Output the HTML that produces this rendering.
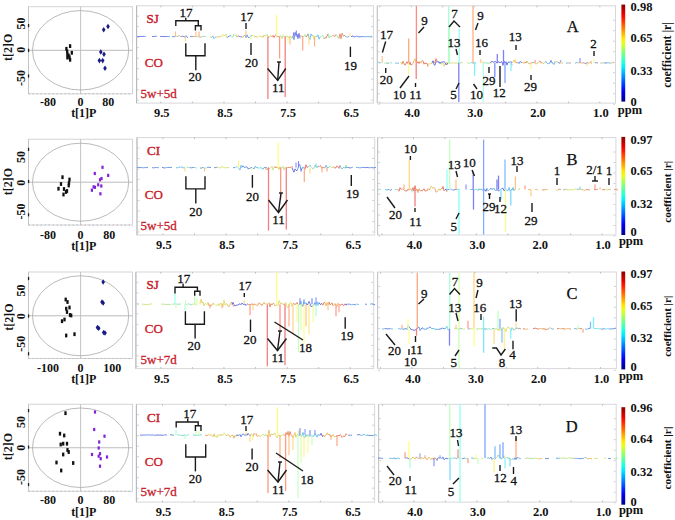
<!DOCTYPE html>
<html><head><meta charset="utf-8"><style>
html,body{margin:0;padding:0;background:#fff;}
svg{display:block;font-family:"Liberation Serif", serif;}
</style></head><body>
<svg width="675" height="520" viewBox="0 0 675 520">
<defs><linearGradient id="jet" x1="0" y1="0" x2="0" y2="1"><stop offset="0.00" stop-color="#890000"/><stop offset="0.05" stop-color="#bb0000"/><stop offset="0.10" stop-color="#ed0000"/><stop offset="0.15" stop-color="#ff2000"/><stop offset="0.20" stop-color="#ff5200"/><stop offset="0.25" stop-color="#ff8400"/><stop offset="0.30" stop-color="#ffb600"/><stop offset="0.35" stop-color="#ffe800"/><stop offset="0.40" stop-color="#e3ff1b"/><stop offset="0.45" stop-color="#b1ff4d"/><stop offset="0.50" stop-color="#7fff7f"/><stop offset="0.55" stop-color="#4dffb1"/><stop offset="0.60" stop-color="#1bffe3"/><stop offset="0.65" stop-color="#00e8ff"/><stop offset="0.70" stop-color="#00b6ff"/><stop offset="0.75" stop-color="#0084ff"/><stop offset="0.80" stop-color="#0052ff"/><stop offset="0.85" stop-color="#0020ff"/><stop offset="0.90" stop-color="#0000ed"/><stop offset="0.95" stop-color="#0000bb"/><stop offset="1.00" stop-color="#000089"/></linearGradient></defs>
<rect width="675" height="520" fill="#fff"/>
<rect x="28.5" y="6.7" width="104" height="87.1" fill="none" stroke="#d4d4d8" stroke-width="1"/>
<line x1="28.5" y1="93.8" x2="132.5" y2="93.8" stroke="#bbb" stroke-width="1" stroke-dasharray="1.5,2.5"/>
<line x1="28.5" y1="6.7" x2="28.5" y2="93.8" stroke="#c4c4c4" stroke-width="1"/>
<line x1="28.5" y1="50.3" x2="132.5" y2="50.3" stroke="#b4b4b4" stroke-width="0.9"/>
<line x1="80.6" y1="6.7" x2="80.6" y2="93.8" stroke="#bcbcbc" stroke-width="0.9"/>
<ellipse cx="80.6" cy="50.3" rx="48.1" ry="39.7" fill="none" stroke="#a8a8a8" stroke-width="0.8"/>
<rect x="27.9" y="24.0" width="1.3" height="3.2" fill="#222"/>
<rect x="27.9" y="48.8" width="1.3" height="3.2" fill="#222"/>
<rect x="27.9" y="74.4" width="1.3" height="3.2" fill="#222"/>
<text x="24.9" y="23.5" font-size="12" font-weight="bold" fill="#111" text-anchor="middle" transform="rotate(-90 24.9 23.5)">50</text>
<text x="24.9" y="49.8" font-size="12" font-weight="bold" fill="#111" text-anchor="middle" transform="rotate(-90 24.9 49.8)">0</text>
<text x="24.9" y="77.9" font-size="12" font-weight="bold" fill="#111" text-anchor="middle" transform="rotate(-90 24.9 77.9)">-50</text>
<text x="12.5" y="47.3" font-size="12" font-weight="bold" fill="#111" text-anchor="middle" transform="rotate(-90 12.5 47.3)">t[2]O</text>
<text x="48" y="105.8" font-size="12" font-weight="bold" fill="#111" text-anchor="middle">-80</text>
<text x="80.6" y="105.8" font-size="12" font-weight="bold" fill="#111" text-anchor="middle">0</text>
<text x="108.3" y="105.8" font-size="12" font-weight="bold" fill="#111" text-anchor="middle">80</text>
<text x="83.8" y="116.8" font-size="12" font-weight="bold" fill="#111" text-anchor="middle">t[1]P</text>
<rect x="68.94999999999999" y="44.2" width="2.3" height="3.8" fill="#111"/>
<rect x="65.25" y="46.9" width="2.3" height="3.8" fill="#111"/>
<rect x="66.05" y="49.6" width="2.3" height="3.8" fill="#111"/>
<rect x="70.64999999999999" y="50.9" width="2.3" height="3.8" fill="#111"/>
<rect x="66.25" y="52.6" width="2.3" height="3.8" fill="#111"/>
<rect x="67.44999999999999" y="53.6" width="2.3" height="3.8" fill="#111"/>
<rect x="66.25" y="55.7" width="2.3" height="3.8" fill="#111"/>
<rect x="68.35" y="55.300000000000004" width="2.3" height="3.8" fill="#111"/>
<rect x="68.94999999999999" y="57.9" width="2.3" height="3.8" fill="#111"/>
<path d="M108 23.7L109.8 26.5L108 29.3L106.2 26.5Z" fill="#1a1a80"/>
<path d="M103.7 27.0L105.5 29.8L103.7 32.6L101.9 29.8Z" fill="#1a1a80"/>
<path d="M100.8 49.2L102.6 52L100.8 54.8L99.0 52Z" fill="#1a1a80"/>
<path d="M104 51.400000000000006L105.8 54.2L104 57.0L102.2 54.2Z" fill="#1a1a80"/>
<path d="M99.4 57.800000000000004L101.2 60.6L99.4 63.4L97.60000000000001 60.6Z" fill="#1a1a80"/>
<path d="M102.7 57.800000000000004L104.5 60.6L102.7 63.4L100.9 60.6Z" fill="#1a1a80"/>
<path d="M105 65.5L106.8 68.3L105 71.1L103.2 68.3Z" fill="#1a1a80"/>
<rect x="136.6" y="5.8" width="236.79999999999998" height="97.3" fill="none" stroke="#d8d8dc" stroke-width="1"/>
<line x1="136.6" y1="5.8" x2="136.6" y2="103.1" stroke="#b4b4bc" stroke-width="1"/>
<rect x="377.3" y="5.8" width="238.2" height="97.3" fill="none" stroke="#d8d8dc" stroke-width="1"/>
<line x1="377.3" y1="5.8" x2="377.3" y2="103.1" stroke="#c4c4c8" stroke-width="1"/>
<line x1="372.9" y1="16.2" x2="370.9" y2="16.2" stroke="#c4c4c4" stroke-width="0.8"/>
<line x1="137.1" y1="16.2" x2="139.1" y2="16.2" stroke="#c4c4c4" stroke-width="0.8"/>
<line x1="377.8" y1="20.2" x2="379.8" y2="20.2" stroke="#c4c4c4" stroke-width="0.8"/>
<line x1="615.0" y1="20.2" x2="613.0" y2="20.2" stroke="#c4c4c4" stroke-width="0.8"/>
<line x1="372.9" y1="26.7" x2="370.9" y2="26.7" stroke="#c4c4c4" stroke-width="0.8"/>
<line x1="137.1" y1="26.7" x2="139.1" y2="26.7" stroke="#c4c4c4" stroke-width="0.8"/>
<line x1="377.8" y1="30.7" x2="379.8" y2="30.7" stroke="#c4c4c4" stroke-width="0.8"/>
<line x1="615.0" y1="30.7" x2="613.0" y2="30.7" stroke="#c4c4c4" stroke-width="0.8"/>
<line x1="372.9" y1="37.2" x2="370.9" y2="37.2" stroke="#c4c4c4" stroke-width="0.8"/>
<line x1="137.1" y1="37.2" x2="139.1" y2="37.2" stroke="#c4c4c4" stroke-width="0.8"/>
<line x1="377.8" y1="41.2" x2="379.8" y2="41.2" stroke="#c4c4c4" stroke-width="0.8"/>
<line x1="615.0" y1="41.2" x2="613.0" y2="41.2" stroke="#c4c4c4" stroke-width="0.8"/>
<line x1="372.9" y1="47.7" x2="370.9" y2="47.7" stroke="#c4c4c4" stroke-width="0.8"/>
<line x1="137.1" y1="47.7" x2="139.1" y2="47.7" stroke="#c4c4c4" stroke-width="0.8"/>
<line x1="377.8" y1="51.7" x2="379.8" y2="51.7" stroke="#c4c4c4" stroke-width="0.8"/>
<line x1="615.0" y1="51.7" x2="613.0" y2="51.7" stroke="#c4c4c4" stroke-width="0.8"/>
<line x1="372.9" y1="58.2" x2="370.9" y2="58.2" stroke="#c4c4c4" stroke-width="0.8"/>
<line x1="137.1" y1="58.2" x2="139.1" y2="58.2" stroke="#c4c4c4" stroke-width="0.8"/>
<line x1="377.8" y1="62.2" x2="379.8" y2="62.2" stroke="#c4c4c4" stroke-width="0.8"/>
<line x1="615.0" y1="62.2" x2="613.0" y2="62.2" stroke="#c4c4c4" stroke-width="0.8"/>
<line x1="372.9" y1="68.7" x2="370.9" y2="68.7" stroke="#c4c4c4" stroke-width="0.8"/>
<line x1="137.1" y1="68.7" x2="139.1" y2="68.7" stroke="#c4c4c4" stroke-width="0.8"/>
<line x1="377.8" y1="72.7" x2="379.8" y2="72.7" stroke="#c4c4c4" stroke-width="0.8"/>
<line x1="615.0" y1="72.7" x2="613.0" y2="72.7" stroke="#c4c4c4" stroke-width="0.8"/>
<line x1="372.9" y1="79.2" x2="370.9" y2="79.2" stroke="#c4c4c4" stroke-width="0.8"/>
<line x1="137.1" y1="79.2" x2="139.1" y2="79.2" stroke="#c4c4c4" stroke-width="0.8"/>
<line x1="377.8" y1="83.2" x2="379.8" y2="83.2" stroke="#c4c4c4" stroke-width="0.8"/>
<line x1="615.0" y1="83.2" x2="613.0" y2="83.2" stroke="#c4c4c4" stroke-width="0.8"/>
<line x1="372.9" y1="89.7" x2="370.9" y2="89.7" stroke="#c4c4c4" stroke-width="0.8"/>
<line x1="137.1" y1="89.7" x2="139.1" y2="89.7" stroke="#c4c4c4" stroke-width="0.8"/>
<line x1="377.8" y1="93.7" x2="379.8" y2="93.7" stroke="#c4c4c4" stroke-width="0.8"/>
<line x1="615.0" y1="93.7" x2="613.0" y2="93.7" stroke="#c4c4c4" stroke-width="0.8"/>
<line x1="372.9" y1="100.2" x2="370.9" y2="100.2" stroke="#c4c4c4" stroke-width="0.8"/>
<line x1="137.1" y1="100.2" x2="139.1" y2="100.2" stroke="#c4c4c4" stroke-width="0.8"/>
<line x1="377.8" y1="104.2" x2="379.8" y2="104.2" stroke="#c4c4c4" stroke-width="0.8"/>
<line x1="615.0" y1="104.2" x2="613.0" y2="104.2" stroke="#c4c4c4" stroke-width="0.8"/>
<text x="161.8" y="116.5" font-size="12.5" font-weight="bold" fill="#111" text-anchor="middle">9.5</text>
<text x="224.95000000000002" y="116.5" font-size="12.5" font-weight="bold" fill="#111" text-anchor="middle">8.5</text>
<text x="288.1" y="116.5" font-size="12.5" font-weight="bold" fill="#111" text-anchor="middle">7.5</text>
<text x="351.25" y="116.5" font-size="12.5" font-weight="bold" fill="#111" text-anchor="middle">6.5</text>
<line x1="160.8" y1="101.6" x2="160.8" y2="103.1" stroke="#aaa" stroke-width="0.8"/>
<line x1="160.8" y1="5.8" x2="160.8" y2="7.3" stroke="#aaa" stroke-width="0.8"/>
<line x1="192.375" y1="101.6" x2="192.375" y2="103.1" stroke="#aaa" stroke-width="0.8"/>
<line x1="192.375" y1="5.8" x2="192.375" y2="7.3" stroke="#aaa" stroke-width="0.8"/>
<line x1="223.95000000000002" y1="101.6" x2="223.95000000000002" y2="103.1" stroke="#aaa" stroke-width="0.8"/>
<line x1="223.95000000000002" y1="5.8" x2="223.95000000000002" y2="7.3" stroke="#aaa" stroke-width="0.8"/>
<line x1="255.525" y1="101.6" x2="255.525" y2="103.1" stroke="#aaa" stroke-width="0.8"/>
<line x1="255.525" y1="5.8" x2="255.525" y2="7.3" stroke="#aaa" stroke-width="0.8"/>
<line x1="287.1" y1="101.6" x2="287.1" y2="103.1" stroke="#aaa" stroke-width="0.8"/>
<line x1="287.1" y1="5.8" x2="287.1" y2="7.3" stroke="#aaa" stroke-width="0.8"/>
<line x1="318.675" y1="101.6" x2="318.675" y2="103.1" stroke="#aaa" stroke-width="0.8"/>
<line x1="318.675" y1="5.8" x2="318.675" y2="7.3" stroke="#aaa" stroke-width="0.8"/>
<line x1="350.25" y1="101.6" x2="350.25" y2="103.1" stroke="#aaa" stroke-width="0.8"/>
<line x1="350.25" y1="5.8" x2="350.25" y2="7.3" stroke="#aaa" stroke-width="0.8"/>
<text x="412.3" y="116.5" font-size="12.5" font-weight="bold" fill="#111" text-anchor="middle">4.0</text>
<text x="475.15000000000003" y="116.5" font-size="12.5" font-weight="bold" fill="#111" text-anchor="middle">3.0</text>
<text x="538.0" y="116.5" font-size="12.5" font-weight="bold" fill="#111" text-anchor="middle">2.0</text>
<text x="600.85" y="116.5" font-size="12.5" font-weight="bold" fill="#111" text-anchor="middle">1.0</text>
<line x1="379.875" y1="101.6" x2="379.875" y2="103.1" stroke="#aaa" stroke-width="0.8"/>
<line x1="379.875" y1="5.8" x2="379.875" y2="7.3" stroke="#aaa" stroke-width="0.8"/>
<line x1="411.3" y1="101.6" x2="411.3" y2="103.1" stroke="#aaa" stroke-width="0.8"/>
<line x1="411.3" y1="5.8" x2="411.3" y2="7.3" stroke="#aaa" stroke-width="0.8"/>
<line x1="442.725" y1="101.6" x2="442.725" y2="103.1" stroke="#aaa" stroke-width="0.8"/>
<line x1="442.725" y1="5.8" x2="442.725" y2="7.3" stroke="#aaa" stroke-width="0.8"/>
<line x1="474.15000000000003" y1="101.6" x2="474.15000000000003" y2="103.1" stroke="#aaa" stroke-width="0.8"/>
<line x1="474.15000000000003" y1="5.8" x2="474.15000000000003" y2="7.3" stroke="#aaa" stroke-width="0.8"/>
<line x1="505.57500000000005" y1="101.6" x2="505.57500000000005" y2="103.1" stroke="#aaa" stroke-width="0.8"/>
<line x1="505.57500000000005" y1="5.8" x2="505.57500000000005" y2="7.3" stroke="#aaa" stroke-width="0.8"/>
<line x1="537.0" y1="101.6" x2="537.0" y2="103.1" stroke="#aaa" stroke-width="0.8"/>
<line x1="537.0" y1="5.8" x2="537.0" y2="7.3" stroke="#aaa" stroke-width="0.8"/>
<line x1="568.425" y1="101.6" x2="568.425" y2="103.1" stroke="#aaa" stroke-width="0.8"/>
<line x1="568.425" y1="5.8" x2="568.425" y2="7.3" stroke="#aaa" stroke-width="0.8"/>
<line x1="599.85" y1="101.6" x2="599.85" y2="103.1" stroke="#aaa" stroke-width="0.8"/>
<line x1="599.85" y1="5.8" x2="599.85" y2="7.3" stroke="#aaa" stroke-width="0.8"/>
<text x="630.0" y="114.2" font-size="12.5" font-weight="bold" fill="#111" text-anchor="middle">ppm</text>
<rect x="621.4" y="4.6" width="3.8" height="97.0" fill="url(#jet)"/>
<text x="630.5" y="10.6" font-size="12.5" font-weight="bold" fill="#111" text-anchor="start">0.98</text>
<text x="630.5" y="42.3" font-size="12.5" font-weight="bold" fill="#111" text-anchor="start">0.65</text>
<text x="630.5" y="74.6" font-size="12.5" font-weight="bold" fill="#111" text-anchor="start">0.33</text>
<text x="630.5" y="105.8" font-size="12.5" font-weight="bold" fill="#111" text-anchor="start">0</text>
<text x="671" y="54.85" font-size="11.9" font-weight="bold" fill="#111" text-anchor="middle" transform="rotate(-90 671 54.85)">coefficient |r|</text>
<text x="152.6" y="22.6" font-size="13" font-weight="normal" fill="#c8202c" text-anchor="middle" stroke="#c8202c" stroke-width="0.45">SJ</text>
<text x="153.8" y="67.0" font-size="13" font-weight="normal" fill="#c8202c" text-anchor="middle" stroke="#c8202c" stroke-width="0.35">CO</text>
<text x="140.5" y="97.8" font-size="13" font-weight="normal" fill="#c8202c" text-anchor="start" stroke="#c8202c" stroke-width="0.3">5w+5d</text>
<text x="572.8" y="32.3" font-size="16.5" font-weight="normal" fill="#111" text-anchor="middle" stroke="#111" stroke-width="0.25">A</text>
<rect x="28.5" y="139.25" width="104" height="85.75" fill="none" stroke="#d4d4d8" stroke-width="1"/>
<line x1="28.5" y1="225.0" x2="132.5" y2="225.0" stroke="#bbb" stroke-width="1" stroke-dasharray="1.5,2.5"/>
<line x1="28.5" y1="139.25" x2="28.5" y2="225.0" stroke="#c4c4c4" stroke-width="1"/>
<line x1="28.5" y1="182.2" x2="132.5" y2="182.2" stroke="#b4b4b4" stroke-width="0.9"/>
<line x1="80.6" y1="139.25" x2="80.6" y2="225.0" stroke="#bcbcbc" stroke-width="0.9"/>
<ellipse cx="80.6" cy="182.2" rx="48.1" ry="39.0" fill="none" stroke="#a8a8a8" stroke-width="0.8"/>
<rect x="27.9" y="147.8" width="1.3" height="3.2" fill="#222"/>
<rect x="27.9" y="179.9" width="1.3" height="3.2" fill="#222"/>
<rect x="27.9" y="213.20000000000002" width="1.3" height="3.2" fill="#222"/>
<text x="24.9" y="157.1" font-size="12" font-weight="bold" fill="#111" text-anchor="middle" transform="rotate(-90 24.9 157.1)">50</text>
<text x="24.9" y="182.8" font-size="12" font-weight="bold" fill="#111" text-anchor="middle" transform="rotate(-90 24.9 182.8)">0</text>
<text x="24.9" y="211.5" font-size="12" font-weight="bold" fill="#111" text-anchor="middle" transform="rotate(-90 24.9 211.5)">-50</text>
<text x="12.5" y="181.6" font-size="12" font-weight="bold" fill="#111" text-anchor="middle" transform="rotate(-90 12.5 181.6)">t[2]O</text>
<text x="48" y="238.5" font-size="12" font-weight="bold" fill="#111" text-anchor="middle">-80</text>
<text x="80.6" y="238.5" font-size="12" font-weight="bold" fill="#111" text-anchor="middle">0</text>
<text x="109.3" y="238.5" font-size="12" font-weight="bold" fill="#111" text-anchor="middle">80</text>
<text x="83.8" y="250.0" font-size="12" font-weight="bold" fill="#111" text-anchor="middle">t[1]P</text>
<rect x="61.35" y="175.29999999999998" width="2.3" height="3.8" fill="#111"/>
<rect x="68.35" y="177.6" width="2.3" height="3.8" fill="#111"/>
<rect x="59.85" y="182.1" width="2.3" height="3.8" fill="#111"/>
<rect x="67.55" y="183.6" width="2.3" height="3.8" fill="#111"/>
<rect x="57.35" y="186.79999999999998" width="2.3" height="3.8" fill="#111"/>
<rect x="62.85" y="187.1" width="2.3" height="3.8" fill="#111"/>
<rect x="65.85" y="189.1" width="2.3" height="3.8" fill="#111"/>
<rect x="62.35" y="192.6" width="2.3" height="3.8" fill="#111"/>
<rect x="64.85" y="190.1" width="2.3" height="3.8" fill="#111"/>
<rect x="67.85" y="181.1" width="2.3" height="3.8" fill="#111"/>
<rect x="101.4" y="165.70000000000002" width="2.2" height="3.2" fill="#7f22d8"/>
<rect x="93.7" y="171.9" width="2.2" height="3.2" fill="#7f22d8"/>
<rect x="107.10000000000001" y="173.8" width="2.2" height="3.2" fill="#7f22d8"/>
<rect x="100.4" y="176.9" width="2.2" height="3.2" fill="#7f22d8"/>
<rect x="98.9" y="178.20000000000002" width="2.2" height="3.2" fill="#7f22d8"/>
<rect x="97.10000000000001" y="183.20000000000002" width="2.2" height="3.2" fill="#7f22d8"/>
<rect x="100.2" y="184.4" width="2.2" height="3.2" fill="#7f22d8"/>
<rect x="92.5" y="185.3" width="2.2" height="3.2" fill="#7f22d8"/>
<rect x="93.9" y="185.70000000000002" width="2.2" height="3.2" fill="#7f22d8"/>
<rect x="90.80000000000001" y="188.6" width="2.2" height="3.2" fill="#7f22d8"/>
<rect x="99.30000000000001" y="192.20000000000002" width="2.2" height="3.2" fill="#7f22d8"/>
<rect x="137.0" y="137.6" width="237.7" height="97.4" fill="none" stroke="#d8d8dc" stroke-width="1"/>
<line x1="137.0" y1="137.6" x2="137.0" y2="235.0" stroke="#b4b4bc" stroke-width="1"/>
<rect x="377.6" y="137.6" width="238.29999999999995" height="97.4" fill="none" stroke="#d8d8dc" stroke-width="1"/>
<line x1="377.6" y1="137.6" x2="377.6" y2="235.0" stroke="#c4c4c8" stroke-width="1"/>
<line x1="374.2" y1="148.0" x2="372.2" y2="148.0" stroke="#c4c4c4" stroke-width="0.8"/>
<line x1="137.5" y1="148.0" x2="139.5" y2="148.0" stroke="#c4c4c4" stroke-width="0.8"/>
<line x1="378.1" y1="152.0" x2="380.1" y2="152.0" stroke="#c4c4c4" stroke-width="0.8"/>
<line x1="615.4" y1="152.0" x2="613.4" y2="152.0" stroke="#c4c4c4" stroke-width="0.8"/>
<line x1="374.2" y1="158.5" x2="372.2" y2="158.5" stroke="#c4c4c4" stroke-width="0.8"/>
<line x1="137.5" y1="158.5" x2="139.5" y2="158.5" stroke="#c4c4c4" stroke-width="0.8"/>
<line x1="378.1" y1="162.5" x2="380.1" y2="162.5" stroke="#c4c4c4" stroke-width="0.8"/>
<line x1="615.4" y1="162.5" x2="613.4" y2="162.5" stroke="#c4c4c4" stroke-width="0.8"/>
<line x1="374.2" y1="169.0" x2="372.2" y2="169.0" stroke="#c4c4c4" stroke-width="0.8"/>
<line x1="137.5" y1="169.0" x2="139.5" y2="169.0" stroke="#c4c4c4" stroke-width="0.8"/>
<line x1="378.1" y1="173.0" x2="380.1" y2="173.0" stroke="#c4c4c4" stroke-width="0.8"/>
<line x1="615.4" y1="173.0" x2="613.4" y2="173.0" stroke="#c4c4c4" stroke-width="0.8"/>
<line x1="374.2" y1="179.5" x2="372.2" y2="179.5" stroke="#c4c4c4" stroke-width="0.8"/>
<line x1="137.5" y1="179.5" x2="139.5" y2="179.5" stroke="#c4c4c4" stroke-width="0.8"/>
<line x1="378.1" y1="183.5" x2="380.1" y2="183.5" stroke="#c4c4c4" stroke-width="0.8"/>
<line x1="615.4" y1="183.5" x2="613.4" y2="183.5" stroke="#c4c4c4" stroke-width="0.8"/>
<line x1="374.2" y1="190.0" x2="372.2" y2="190.0" stroke="#c4c4c4" stroke-width="0.8"/>
<line x1="137.5" y1="190.0" x2="139.5" y2="190.0" stroke="#c4c4c4" stroke-width="0.8"/>
<line x1="378.1" y1="194.0" x2="380.1" y2="194.0" stroke="#c4c4c4" stroke-width="0.8"/>
<line x1="615.4" y1="194.0" x2="613.4" y2="194.0" stroke="#c4c4c4" stroke-width="0.8"/>
<line x1="374.2" y1="200.5" x2="372.2" y2="200.5" stroke="#c4c4c4" stroke-width="0.8"/>
<line x1="137.5" y1="200.5" x2="139.5" y2="200.5" stroke="#c4c4c4" stroke-width="0.8"/>
<line x1="378.1" y1="204.5" x2="380.1" y2="204.5" stroke="#c4c4c4" stroke-width="0.8"/>
<line x1="615.4" y1="204.5" x2="613.4" y2="204.5" stroke="#c4c4c4" stroke-width="0.8"/>
<line x1="374.2" y1="211.0" x2="372.2" y2="211.0" stroke="#c4c4c4" stroke-width="0.8"/>
<line x1="137.5" y1="211.0" x2="139.5" y2="211.0" stroke="#c4c4c4" stroke-width="0.8"/>
<line x1="378.1" y1="215.0" x2="380.1" y2="215.0" stroke="#c4c4c4" stroke-width="0.8"/>
<line x1="615.4" y1="215.0" x2="613.4" y2="215.0" stroke="#c4c4c4" stroke-width="0.8"/>
<line x1="374.2" y1="221.5" x2="372.2" y2="221.5" stroke="#c4c4c4" stroke-width="0.8"/>
<line x1="137.5" y1="221.5" x2="139.5" y2="221.5" stroke="#c4c4c4" stroke-width="0.8"/>
<line x1="378.1" y1="225.5" x2="380.1" y2="225.5" stroke="#c4c4c4" stroke-width="0.8"/>
<line x1="615.4" y1="225.5" x2="613.4" y2="225.5" stroke="#c4c4c4" stroke-width="0.8"/>
<line x1="374.2" y1="232.0" x2="372.2" y2="232.0" stroke="#c4c4c4" stroke-width="0.8"/>
<line x1="137.5" y1="232.0" x2="139.5" y2="232.0" stroke="#c4c4c4" stroke-width="0.8"/>
<line x1="378.1" y1="236.0" x2="380.1" y2="236.0" stroke="#c4c4c4" stroke-width="0.8"/>
<line x1="615.4" y1="236.0" x2="613.4" y2="236.0" stroke="#c4c4c4" stroke-width="0.8"/>
<text x="163.9" y="248.5" font-size="12.5" font-weight="bold" fill="#111" text-anchor="middle">9.5</text>
<text x="227.05" y="248.5" font-size="12.5" font-weight="bold" fill="#111" text-anchor="middle">8.5</text>
<text x="290.2" y="248.5" font-size="12.5" font-weight="bold" fill="#111" text-anchor="middle">7.5</text>
<text x="353.35" y="248.5" font-size="12.5" font-weight="bold" fill="#111" text-anchor="middle">6.5</text>
<line x1="162.9" y1="233.5" x2="162.9" y2="235.0" stroke="#aaa" stroke-width="0.8"/>
<line x1="162.9" y1="137.6" x2="162.9" y2="139.1" stroke="#aaa" stroke-width="0.8"/>
<line x1="194.475" y1="233.5" x2="194.475" y2="235.0" stroke="#aaa" stroke-width="0.8"/>
<line x1="194.475" y1="137.6" x2="194.475" y2="139.1" stroke="#aaa" stroke-width="0.8"/>
<line x1="226.05" y1="233.5" x2="226.05" y2="235.0" stroke="#aaa" stroke-width="0.8"/>
<line x1="226.05" y1="137.6" x2="226.05" y2="139.1" stroke="#aaa" stroke-width="0.8"/>
<line x1="257.625" y1="233.5" x2="257.625" y2="235.0" stroke="#aaa" stroke-width="0.8"/>
<line x1="257.625" y1="137.6" x2="257.625" y2="139.1" stroke="#aaa" stroke-width="0.8"/>
<line x1="289.2" y1="233.5" x2="289.2" y2="235.0" stroke="#aaa" stroke-width="0.8"/>
<line x1="289.2" y1="137.6" x2="289.2" y2="139.1" stroke="#aaa" stroke-width="0.8"/>
<line x1="320.775" y1="233.5" x2="320.775" y2="235.0" stroke="#aaa" stroke-width="0.8"/>
<line x1="320.775" y1="137.6" x2="320.775" y2="139.1" stroke="#aaa" stroke-width="0.8"/>
<line x1="352.35" y1="233.5" x2="352.35" y2="235.0" stroke="#aaa" stroke-width="0.8"/>
<line x1="352.35" y1="137.6" x2="352.35" y2="139.1" stroke="#aaa" stroke-width="0.8"/>
<text x="414.5" y="248.5" font-size="12.5" font-weight="bold" fill="#111" text-anchor="middle">4.0</text>
<text x="477.35" y="248.5" font-size="12.5" font-weight="bold" fill="#111" text-anchor="middle">3.0</text>
<text x="540.2" y="248.5" font-size="12.5" font-weight="bold" fill="#111" text-anchor="middle">2.0</text>
<text x="603.05" y="248.5" font-size="12.5" font-weight="bold" fill="#111" text-anchor="middle">1.0</text>
<line x1="382.075" y1="233.5" x2="382.075" y2="235.0" stroke="#aaa" stroke-width="0.8"/>
<line x1="382.075" y1="137.6" x2="382.075" y2="139.1" stroke="#aaa" stroke-width="0.8"/>
<line x1="413.5" y1="233.5" x2="413.5" y2="235.0" stroke="#aaa" stroke-width="0.8"/>
<line x1="413.5" y1="137.6" x2="413.5" y2="139.1" stroke="#aaa" stroke-width="0.8"/>
<line x1="444.925" y1="233.5" x2="444.925" y2="235.0" stroke="#aaa" stroke-width="0.8"/>
<line x1="444.925" y1="137.6" x2="444.925" y2="139.1" stroke="#aaa" stroke-width="0.8"/>
<line x1="476.35" y1="233.5" x2="476.35" y2="235.0" stroke="#aaa" stroke-width="0.8"/>
<line x1="476.35" y1="137.6" x2="476.35" y2="139.1" stroke="#aaa" stroke-width="0.8"/>
<line x1="507.775" y1="233.5" x2="507.775" y2="235.0" stroke="#aaa" stroke-width="0.8"/>
<line x1="507.775" y1="137.6" x2="507.775" y2="139.1" stroke="#aaa" stroke-width="0.8"/>
<line x1="539.2" y1="233.5" x2="539.2" y2="235.0" stroke="#aaa" stroke-width="0.8"/>
<line x1="539.2" y1="137.6" x2="539.2" y2="139.1" stroke="#aaa" stroke-width="0.8"/>
<line x1="570.625" y1="233.5" x2="570.625" y2="235.0" stroke="#aaa" stroke-width="0.8"/>
<line x1="570.625" y1="137.6" x2="570.625" y2="139.1" stroke="#aaa" stroke-width="0.8"/>
<line x1="602.05" y1="233.5" x2="602.05" y2="235.0" stroke="#aaa" stroke-width="0.8"/>
<line x1="602.05" y1="137.6" x2="602.05" y2="139.1" stroke="#aaa" stroke-width="0.8"/>
<text x="631.1" y="245.1" font-size="12.5" font-weight="bold" fill="#111" text-anchor="middle">ppm</text>
<rect x="621.4" y="136.9" width="3.8" height="98.1" fill="url(#jet)"/>
<text x="630.5" y="143.5" font-size="12.5" font-weight="bold" fill="#111" text-anchor="start">0.97</text>
<text x="630.5" y="174.6" font-size="12.5" font-weight="bold" fill="#111" text-anchor="start">0.65</text>
<text x="630.5" y="208.1" font-size="12.5" font-weight="bold" fill="#111" text-anchor="start">0.32</text>
<text x="630.5" y="236.3" font-size="12.5" font-weight="bold" fill="#111" text-anchor="start">0</text>
<text x="671" y="191.75" font-size="11.2" font-weight="bold" fill="#111" text-anchor="middle" transform="rotate(-90 671 191.75)">coefficient |r|</text>
<text x="153.6" y="154.9" font-size="13" font-weight="normal" fill="#c8202c" text-anchor="middle" stroke="#c8202c" stroke-width="0.45">CI</text>
<text x="153.8" y="198.8" font-size="13" font-weight="normal" fill="#c8202c" text-anchor="middle" stroke="#c8202c" stroke-width="0.35">CO</text>
<text x="140.5" y="229.6" font-size="13" font-weight="normal" fill="#c8202c" text-anchor="start" stroke="#c8202c" stroke-width="0.3">5w+5d</text>
<text x="572.0" y="164.6" font-size="16.5" font-weight="normal" fill="#111" text-anchor="middle" stroke="#111" stroke-width="0.25">B</text>
<rect x="28.5" y="272.0" width="104" height="86.5" fill="none" stroke="#d4d4d8" stroke-width="1"/>
<line x1="28.5" y1="358.5" x2="132.5" y2="358.5" stroke="#bbb" stroke-width="1" stroke-dasharray="1.5,2.5"/>
<line x1="28.5" y1="272.0" x2="28.5" y2="358.5" stroke="#c4c4c4" stroke-width="1"/>
<line x1="28.5" y1="315.8" x2="132.5" y2="315.8" stroke="#b4b4b4" stroke-width="0.9"/>
<line x1="80.6" y1="272.0" x2="80.6" y2="358.5" stroke="#bcbcbc" stroke-width="0.9"/>
<ellipse cx="80.6" cy="315.8" rx="48.1" ry="40.0" fill="none" stroke="#a8a8a8" stroke-width="0.8"/>
<rect x="27.9" y="276.9" width="1.3" height="3.2" fill="#222"/>
<rect x="27.9" y="314.4" width="1.3" height="3.2" fill="#222"/>
<rect x="27.9" y="352.2" width="1.3" height="3.2" fill="#222"/>
<text x="24.9" y="290.5" font-size="12" font-weight="bold" fill="#111" text-anchor="middle" transform="rotate(-90 24.9 290.5)">50</text>
<text x="24.9" y="316.3" font-size="12" font-weight="bold" fill="#111" text-anchor="middle" transform="rotate(-90 24.9 316.3)">0</text>
<text x="24.9" y="343.8" font-size="12" font-weight="bold" fill="#111" text-anchor="middle" transform="rotate(-90 24.9 343.8)">-50</text>
<text x="12.5" y="317" font-size="12" font-weight="bold" fill="#111" text-anchor="middle" transform="rotate(-90 12.5 317)">t[2]O</text>
<text x="48" y="372.0" font-size="12" font-weight="bold" fill="#111" text-anchor="middle">-100</text>
<text x="80.6" y="372.0" font-size="12" font-weight="bold" fill="#111" text-anchor="middle">0</text>
<text x="112.3" y="372.0" font-size="12" font-weight="bold" fill="#111" text-anchor="middle">100</text>
<text x="83.8" y="382.5" font-size="12" font-weight="bold" fill="#111" text-anchor="middle">t[1]P</text>
<rect x="64.55" y="297.6" width="2.3" height="3.8" fill="#111"/>
<rect x="66.35" y="300.1" width="2.3" height="3.8" fill="#111"/>
<rect x="65.05" y="306.8" width="2.3" height="3.8" fill="#111"/>
<rect x="68.35" y="305.6" width="2.3" height="3.8" fill="#111"/>
<rect x="65.85" y="310.1" width="2.3" height="3.8" fill="#111"/>
<rect x="68.85" y="313.1" width="2.3" height="3.8" fill="#111"/>
<rect x="70.05" y="313.6" width="2.3" height="3.8" fill="#111"/>
<rect x="63.35" y="317.6" width="2.3" height="3.8" fill="#111"/>
<rect x="60.85" y="319.3" width="2.3" height="3.8" fill="#111"/>
<rect x="65.05" y="333.6" width="2.3" height="3.8" fill="#111"/>
<rect x="73.35" y="332.3" width="2.3" height="3.8" fill="#111"/>
<path d="M103.2 279.2L105.0 282L103.2 284.8L101.4 282Z" fill="#1a1a80"/>
<path d="M102 299.2L103.8 302L102 304.8L100.2 302Z" fill="#1a1a80"/>
<path d="M103.2 300.2L105.0 303L103.2 305.8L101.4 303Z" fill="#1a1a80"/>
<path d="M97.5 324.7L99.3 327.5L97.5 330.3L95.7 327.5Z" fill="#1a1a80"/>
<path d="M98.7 325.4L100.5 328.2L98.7 331.0L96.9 328.2Z" fill="#1a1a80"/>
<path d="M103.7 329.7L105.5 332.5L103.7 335.3L101.9 332.5Z" fill="#1a1a80"/>
<path d="M105 330.2L106.8 333L105 335.8L103.2 333Z" fill="#1a1a80"/>
<rect x="135.9" y="272.0" width="237.79999999999998" height="96.60000000000002" fill="none" stroke="#d8d8dc" stroke-width="1"/>
<line x1="135.9" y1="272.0" x2="135.9" y2="368.6" stroke="#b4b4bc" stroke-width="1"/>
<rect x="377.6" y="272.0" width="238.79999999999995" height="96.60000000000002" fill="none" stroke="#d8d8dc" stroke-width="1"/>
<line x1="377.6" y1="272.0" x2="377.6" y2="368.6" stroke="#c4c4c8" stroke-width="1"/>
<line x1="373.2" y1="282.4" x2="371.2" y2="282.4" stroke="#c4c4c4" stroke-width="0.8"/>
<line x1="136.4" y1="282.4" x2="138.4" y2="282.4" stroke="#c4c4c4" stroke-width="0.8"/>
<line x1="378.1" y1="286.4" x2="380.1" y2="286.4" stroke="#c4c4c4" stroke-width="0.8"/>
<line x1="615.9" y1="286.4" x2="613.9" y2="286.4" stroke="#c4c4c4" stroke-width="0.8"/>
<line x1="373.2" y1="292.9" x2="371.2" y2="292.9" stroke="#c4c4c4" stroke-width="0.8"/>
<line x1="136.4" y1="292.9" x2="138.4" y2="292.9" stroke="#c4c4c4" stroke-width="0.8"/>
<line x1="378.1" y1="296.9" x2="380.1" y2="296.9" stroke="#c4c4c4" stroke-width="0.8"/>
<line x1="615.9" y1="296.9" x2="613.9" y2="296.9" stroke="#c4c4c4" stroke-width="0.8"/>
<line x1="373.2" y1="303.4" x2="371.2" y2="303.4" stroke="#c4c4c4" stroke-width="0.8"/>
<line x1="136.4" y1="303.4" x2="138.4" y2="303.4" stroke="#c4c4c4" stroke-width="0.8"/>
<line x1="378.1" y1="307.4" x2="380.1" y2="307.4" stroke="#c4c4c4" stroke-width="0.8"/>
<line x1="615.9" y1="307.4" x2="613.9" y2="307.4" stroke="#c4c4c4" stroke-width="0.8"/>
<line x1="373.2" y1="313.9" x2="371.2" y2="313.9" stroke="#c4c4c4" stroke-width="0.8"/>
<line x1="136.4" y1="313.9" x2="138.4" y2="313.9" stroke="#c4c4c4" stroke-width="0.8"/>
<line x1="378.1" y1="317.9" x2="380.1" y2="317.9" stroke="#c4c4c4" stroke-width="0.8"/>
<line x1="615.9" y1="317.9" x2="613.9" y2="317.9" stroke="#c4c4c4" stroke-width="0.8"/>
<line x1="373.2" y1="324.4" x2="371.2" y2="324.4" stroke="#c4c4c4" stroke-width="0.8"/>
<line x1="136.4" y1="324.4" x2="138.4" y2="324.4" stroke="#c4c4c4" stroke-width="0.8"/>
<line x1="378.1" y1="328.4" x2="380.1" y2="328.4" stroke="#c4c4c4" stroke-width="0.8"/>
<line x1="615.9" y1="328.4" x2="613.9" y2="328.4" stroke="#c4c4c4" stroke-width="0.8"/>
<line x1="373.2" y1="334.9" x2="371.2" y2="334.9" stroke="#c4c4c4" stroke-width="0.8"/>
<line x1="136.4" y1="334.9" x2="138.4" y2="334.9" stroke="#c4c4c4" stroke-width="0.8"/>
<line x1="378.1" y1="338.9" x2="380.1" y2="338.9" stroke="#c4c4c4" stroke-width="0.8"/>
<line x1="615.9" y1="338.9" x2="613.9" y2="338.9" stroke="#c4c4c4" stroke-width="0.8"/>
<line x1="373.2" y1="345.4" x2="371.2" y2="345.4" stroke="#c4c4c4" stroke-width="0.8"/>
<line x1="136.4" y1="345.4" x2="138.4" y2="345.4" stroke="#c4c4c4" stroke-width="0.8"/>
<line x1="378.1" y1="349.4" x2="380.1" y2="349.4" stroke="#c4c4c4" stroke-width="0.8"/>
<line x1="615.9" y1="349.4" x2="613.9" y2="349.4" stroke="#c4c4c4" stroke-width="0.8"/>
<line x1="373.2" y1="355.9" x2="371.2" y2="355.9" stroke="#c4c4c4" stroke-width="0.8"/>
<line x1="136.4" y1="355.9" x2="138.4" y2="355.9" stroke="#c4c4c4" stroke-width="0.8"/>
<line x1="378.1" y1="359.9" x2="380.1" y2="359.9" stroke="#c4c4c4" stroke-width="0.8"/>
<line x1="615.9" y1="359.9" x2="613.9" y2="359.9" stroke="#c4c4c4" stroke-width="0.8"/>
<line x1="373.2" y1="366.4" x2="371.2" y2="366.4" stroke="#c4c4c4" stroke-width="0.8"/>
<line x1="136.4" y1="366.4" x2="138.4" y2="366.4" stroke="#c4c4c4" stroke-width="0.8"/>
<line x1="378.1" y1="370.4" x2="380.1" y2="370.4" stroke="#c4c4c4" stroke-width="0.8"/>
<line x1="615.9" y1="370.4" x2="613.9" y2="370.4" stroke="#c4c4c4" stroke-width="0.8"/>
<text x="161.8" y="383.0" font-size="12.5" font-weight="bold" fill="#111" text-anchor="middle">9.5</text>
<text x="224.95000000000002" y="383.0" font-size="12.5" font-weight="bold" fill="#111" text-anchor="middle">8.5</text>
<text x="288.1" y="383.0" font-size="12.5" font-weight="bold" fill="#111" text-anchor="middle">7.5</text>
<text x="351.25" y="383.0" font-size="12.5" font-weight="bold" fill="#111" text-anchor="middle">6.5</text>
<line x1="160.8" y1="367.1" x2="160.8" y2="368.6" stroke="#aaa" stroke-width="0.8"/>
<line x1="160.8" y1="272.0" x2="160.8" y2="273.5" stroke="#aaa" stroke-width="0.8"/>
<line x1="192.375" y1="367.1" x2="192.375" y2="368.6" stroke="#aaa" stroke-width="0.8"/>
<line x1="192.375" y1="272.0" x2="192.375" y2="273.5" stroke="#aaa" stroke-width="0.8"/>
<line x1="223.95000000000002" y1="367.1" x2="223.95000000000002" y2="368.6" stroke="#aaa" stroke-width="0.8"/>
<line x1="223.95000000000002" y1="272.0" x2="223.95000000000002" y2="273.5" stroke="#aaa" stroke-width="0.8"/>
<line x1="255.525" y1="367.1" x2="255.525" y2="368.6" stroke="#aaa" stroke-width="0.8"/>
<line x1="255.525" y1="272.0" x2="255.525" y2="273.5" stroke="#aaa" stroke-width="0.8"/>
<line x1="287.1" y1="367.1" x2="287.1" y2="368.6" stroke="#aaa" stroke-width="0.8"/>
<line x1="287.1" y1="272.0" x2="287.1" y2="273.5" stroke="#aaa" stroke-width="0.8"/>
<line x1="318.675" y1="367.1" x2="318.675" y2="368.6" stroke="#aaa" stroke-width="0.8"/>
<line x1="318.675" y1="272.0" x2="318.675" y2="273.5" stroke="#aaa" stroke-width="0.8"/>
<line x1="350.25" y1="367.1" x2="350.25" y2="368.6" stroke="#aaa" stroke-width="0.8"/>
<line x1="350.25" y1="272.0" x2="350.25" y2="273.5" stroke="#aaa" stroke-width="0.8"/>
<text x="413.0" y="383.0" font-size="12.5" font-weight="bold" fill="#111" text-anchor="middle">4.0</text>
<text x="475.85" y="383.0" font-size="12.5" font-weight="bold" fill="#111" text-anchor="middle">3.0</text>
<text x="538.7" y="383.0" font-size="12.5" font-weight="bold" fill="#111" text-anchor="middle">2.0</text>
<text x="601.55" y="383.0" font-size="12.5" font-weight="bold" fill="#111" text-anchor="middle">1.0</text>
<line x1="380.575" y1="367.1" x2="380.575" y2="368.6" stroke="#aaa" stroke-width="0.8"/>
<line x1="380.575" y1="272.0" x2="380.575" y2="273.5" stroke="#aaa" stroke-width="0.8"/>
<line x1="412.0" y1="367.1" x2="412.0" y2="368.6" stroke="#aaa" stroke-width="0.8"/>
<line x1="412.0" y1="272.0" x2="412.0" y2="273.5" stroke="#aaa" stroke-width="0.8"/>
<line x1="443.425" y1="367.1" x2="443.425" y2="368.6" stroke="#aaa" stroke-width="0.8"/>
<line x1="443.425" y1="272.0" x2="443.425" y2="273.5" stroke="#aaa" stroke-width="0.8"/>
<line x1="474.85" y1="367.1" x2="474.85" y2="368.6" stroke="#aaa" stroke-width="0.8"/>
<line x1="474.85" y1="272.0" x2="474.85" y2="273.5" stroke="#aaa" stroke-width="0.8"/>
<line x1="506.275" y1="367.1" x2="506.275" y2="368.6" stroke="#aaa" stroke-width="0.8"/>
<line x1="506.275" y1="272.0" x2="506.275" y2="273.5" stroke="#aaa" stroke-width="0.8"/>
<line x1="537.7" y1="367.1" x2="537.7" y2="368.6" stroke="#aaa" stroke-width="0.8"/>
<line x1="537.7" y1="272.0" x2="537.7" y2="273.5" stroke="#aaa" stroke-width="0.8"/>
<line x1="569.125" y1="367.1" x2="569.125" y2="368.6" stroke="#aaa" stroke-width="0.8"/>
<line x1="569.125" y1="272.0" x2="569.125" y2="273.5" stroke="#aaa" stroke-width="0.8"/>
<line x1="600.55" y1="367.1" x2="600.55" y2="368.6" stroke="#aaa" stroke-width="0.8"/>
<line x1="600.55" y1="272.0" x2="600.55" y2="273.5" stroke="#aaa" stroke-width="0.8"/>
<text x="631.1" y="380.1" font-size="12.5" font-weight="bold" fill="#111" text-anchor="middle">ppm</text>
<rect x="621.4" y="271.5" width="3.8" height="97.89999999999998" fill="url(#jet)"/>
<text x="630.5" y="278.0" font-size="12.5" font-weight="bold" fill="#111" text-anchor="start">0.97</text>
<text x="630.5" y="309.6" font-size="12.5" font-weight="bold" fill="#111" text-anchor="start">0.65</text>
<text x="630.5" y="342.0" font-size="12.5" font-weight="bold" fill="#111" text-anchor="start">0.32</text>
<text x="630.5" y="371.3" font-size="12.5" font-weight="bold" fill="#111" text-anchor="start">0</text>
<text x="671" y="326.2" font-size="11.1" font-weight="bold" fill="#111" text-anchor="middle" transform="rotate(-90 671 326.2)">coefficient |r|</text>
<text x="152.6" y="288.8" font-size="13" font-weight="normal" fill="#c8202c" text-anchor="middle" stroke="#c8202c" stroke-width="0.45">SJ</text>
<text x="153.8" y="333.2" font-size="13" font-weight="normal" fill="#c8202c" text-anchor="middle" stroke="#c8202c" stroke-width="0.35">CO</text>
<text x="140.5" y="364.0" font-size="13" font-weight="normal" fill="#c8202c" text-anchor="start" stroke="#c8202c" stroke-width="0.3">5w+7d</text>
<text x="572.0" y="298.9" font-size="16.5" font-weight="normal" fill="#111" text-anchor="middle" stroke="#111" stroke-width="0.25">C</text>
<rect x="28.5" y="404.25" width="104" height="87.0" fill="none" stroke="#d4d4d8" stroke-width="1"/>
<line x1="28.5" y1="491.25" x2="132.5" y2="491.25" stroke="#bbb" stroke-width="1" stroke-dasharray="1.5,2.5"/>
<line x1="28.5" y1="404.25" x2="28.5" y2="491.25" stroke="#c4c4c4" stroke-width="1"/>
<line x1="28.5" y1="447.75" x2="132.5" y2="447.75" stroke="#b4b4b4" stroke-width="0.9"/>
<line x1="80.6" y1="404.25" x2="80.6" y2="491.25" stroke="#bcbcbc" stroke-width="0.9"/>
<ellipse cx="80.6" cy="447.75" rx="48.1" ry="39.75" fill="none" stroke="#a8a8a8" stroke-width="0.8"/>
<rect x="27.9" y="409.0" width="1.3" height="3.2" fill="#222"/>
<rect x="27.9" y="445.5" width="1.3" height="3.2" fill="#222"/>
<rect x="27.9" y="483.0" width="1.3" height="3.2" fill="#222"/>
<text x="24.9" y="422.1" font-size="12" font-weight="bold" fill="#111" text-anchor="middle" transform="rotate(-90 24.9 422.1)">50</text>
<text x="24.9" y="447.8" font-size="12" font-weight="bold" fill="#111" text-anchor="middle" transform="rotate(-90 24.9 447.8)">0</text>
<text x="24.9" y="476.9" font-size="12" font-weight="bold" fill="#111" text-anchor="middle" transform="rotate(-90 24.9 476.9)">-50</text>
<text x="12.5" y="446.7" font-size="12" font-weight="bold" fill="#111" text-anchor="middle" transform="rotate(-90 12.5 446.7)">t[2]O</text>
<text x="48" y="504.25" font-size="12" font-weight="bold" fill="#111" text-anchor="middle">-80</text>
<text x="80.6" y="504.25" font-size="12" font-weight="bold" fill="#111" text-anchor="middle">0</text>
<text x="109.3" y="504.25" font-size="12" font-weight="bold" fill="#111" text-anchor="middle">80</text>
<text x="83.8" y="515.55" font-size="12" font-weight="bold" fill="#111" text-anchor="middle">t[1]P</text>
<rect x="64.35" y="411.3" width="2.3" height="3.8" fill="#111"/>
<rect x="58.85" y="431.8" width="2.3" height="3.8" fill="#111"/>
<rect x="63.050000000000004" y="433.6" width="2.3" height="3.8" fill="#111"/>
<rect x="59.550000000000004" y="442.6" width="2.3" height="3.8" fill="#111"/>
<rect x="62.050000000000004" y="441.8" width="2.3" height="3.8" fill="#111"/>
<rect x="65.85" y="441.8" width="2.3" height="3.8" fill="#111"/>
<rect x="66.35" y="448.1" width="2.3" height="3.8" fill="#111"/>
<rect x="67.55" y="450.1" width="2.3" height="3.8" fill="#111"/>
<rect x="62.050000000000004" y="452.6" width="2.3" height="3.8" fill="#111"/>
<rect x="55.35" y="460.6" width="2.3" height="3.8" fill="#111"/>
<rect x="72.05" y="461.1" width="2.3" height="3.8" fill="#111"/>
<rect x="60.050000000000004" y="468.6" width="2.3" height="3.8" fill="#111"/>
<rect x="93.9" y="410.4" width="2.2" height="3.2" fill="#7f22d8"/>
<rect x="93.10000000000001" y="427.9" width="2.2" height="3.2" fill="#7f22d8"/>
<rect x="103.4" y="434.59999999999997" width="2.2" height="3.2" fill="#7f22d8"/>
<rect x="98.10000000000001" y="440.4" width="2.2" height="3.2" fill="#7f22d8"/>
<rect x="97.60000000000001" y="446.4" width="2.2" height="3.2" fill="#7f22d8"/>
<rect x="90.9" y="452.9" width="2.2" height="3.2" fill="#7f22d8"/>
<rect x="98.9" y="452.09999999999997" width="2.2" height="3.2" fill="#7f22d8"/>
<rect x="97.60000000000001" y="454.59999999999997" width="2.2" height="3.2" fill="#7f22d8"/>
<rect x="99.60000000000001" y="457.09999999999997" width="2.2" height="3.2" fill="#7f22d8"/>
<rect x="105.9" y="455.4" width="2.2" height="3.2" fill="#7f22d8"/>
<rect x="98.9" y="464.59999999999997" width="2.2" height="3.2" fill="#7f22d8"/>
<rect x="136.4" y="404.3" width="238.20000000000002" height="97.80000000000001" fill="none" stroke="#d8d8dc" stroke-width="1"/>
<line x1="136.4" y1="404.3" x2="136.4" y2="502.1" stroke="#b4b4bc" stroke-width="1"/>
<rect x="378.6" y="404.3" width="237.60000000000002" height="97.80000000000001" fill="none" stroke="#d8d8dc" stroke-width="1"/>
<line x1="378.6" y1="404.3" x2="378.6" y2="502.1" stroke="#c4c4c8" stroke-width="1"/>
<line x1="374.1" y1="414.7" x2="372.1" y2="414.7" stroke="#c4c4c4" stroke-width="0.8"/>
<line x1="136.9" y1="414.7" x2="138.9" y2="414.7" stroke="#c4c4c4" stroke-width="0.8"/>
<line x1="379.1" y1="418.7" x2="381.1" y2="418.7" stroke="#c4c4c4" stroke-width="0.8"/>
<line x1="615.7" y1="418.7" x2="613.7" y2="418.7" stroke="#c4c4c4" stroke-width="0.8"/>
<line x1="374.1" y1="425.2" x2="372.1" y2="425.2" stroke="#c4c4c4" stroke-width="0.8"/>
<line x1="136.9" y1="425.2" x2="138.9" y2="425.2" stroke="#c4c4c4" stroke-width="0.8"/>
<line x1="379.1" y1="429.2" x2="381.1" y2="429.2" stroke="#c4c4c4" stroke-width="0.8"/>
<line x1="615.7" y1="429.2" x2="613.7" y2="429.2" stroke="#c4c4c4" stroke-width="0.8"/>
<line x1="374.1" y1="435.7" x2="372.1" y2="435.7" stroke="#c4c4c4" stroke-width="0.8"/>
<line x1="136.9" y1="435.7" x2="138.9" y2="435.7" stroke="#c4c4c4" stroke-width="0.8"/>
<line x1="379.1" y1="439.7" x2="381.1" y2="439.7" stroke="#c4c4c4" stroke-width="0.8"/>
<line x1="615.7" y1="439.7" x2="613.7" y2="439.7" stroke="#c4c4c4" stroke-width="0.8"/>
<line x1="374.1" y1="446.2" x2="372.1" y2="446.2" stroke="#c4c4c4" stroke-width="0.8"/>
<line x1="136.9" y1="446.2" x2="138.9" y2="446.2" stroke="#c4c4c4" stroke-width="0.8"/>
<line x1="379.1" y1="450.2" x2="381.1" y2="450.2" stroke="#c4c4c4" stroke-width="0.8"/>
<line x1="615.7" y1="450.2" x2="613.7" y2="450.2" stroke="#c4c4c4" stroke-width="0.8"/>
<line x1="374.1" y1="456.7" x2="372.1" y2="456.7" stroke="#c4c4c4" stroke-width="0.8"/>
<line x1="136.9" y1="456.7" x2="138.9" y2="456.7" stroke="#c4c4c4" stroke-width="0.8"/>
<line x1="379.1" y1="460.7" x2="381.1" y2="460.7" stroke="#c4c4c4" stroke-width="0.8"/>
<line x1="615.7" y1="460.7" x2="613.7" y2="460.7" stroke="#c4c4c4" stroke-width="0.8"/>
<line x1="374.1" y1="467.2" x2="372.1" y2="467.2" stroke="#c4c4c4" stroke-width="0.8"/>
<line x1="136.9" y1="467.2" x2="138.9" y2="467.2" stroke="#c4c4c4" stroke-width="0.8"/>
<line x1="379.1" y1="471.2" x2="381.1" y2="471.2" stroke="#c4c4c4" stroke-width="0.8"/>
<line x1="615.7" y1="471.2" x2="613.7" y2="471.2" stroke="#c4c4c4" stroke-width="0.8"/>
<line x1="374.1" y1="477.7" x2="372.1" y2="477.7" stroke="#c4c4c4" stroke-width="0.8"/>
<line x1="136.9" y1="477.7" x2="138.9" y2="477.7" stroke="#c4c4c4" stroke-width="0.8"/>
<line x1="379.1" y1="481.7" x2="381.1" y2="481.7" stroke="#c4c4c4" stroke-width="0.8"/>
<line x1="615.7" y1="481.7" x2="613.7" y2="481.7" stroke="#c4c4c4" stroke-width="0.8"/>
<line x1="374.1" y1="488.2" x2="372.1" y2="488.2" stroke="#c4c4c4" stroke-width="0.8"/>
<line x1="136.9" y1="488.2" x2="138.9" y2="488.2" stroke="#c4c4c4" stroke-width="0.8"/>
<line x1="379.1" y1="492.2" x2="381.1" y2="492.2" stroke="#c4c4c4" stroke-width="0.8"/>
<line x1="615.7" y1="492.2" x2="613.7" y2="492.2" stroke="#c4c4c4" stroke-width="0.8"/>
<line x1="374.1" y1="498.7" x2="372.1" y2="498.7" stroke="#c4c4c4" stroke-width="0.8"/>
<line x1="136.9" y1="498.7" x2="138.9" y2="498.7" stroke="#c4c4c4" stroke-width="0.8"/>
<line x1="379.1" y1="502.7" x2="381.1" y2="502.7" stroke="#c4c4c4" stroke-width="0.8"/>
<line x1="615.7" y1="502.7" x2="613.7" y2="502.7" stroke="#c4c4c4" stroke-width="0.8"/>
<text x="163.5" y="516.2" font-size="12.5" font-weight="bold" fill="#111" text-anchor="middle">9.5</text>
<text x="226.65" y="516.2" font-size="12.5" font-weight="bold" fill="#111" text-anchor="middle">8.5</text>
<text x="289.8" y="516.2" font-size="12.5" font-weight="bold" fill="#111" text-anchor="middle">7.5</text>
<text x="352.95" y="516.2" font-size="12.5" font-weight="bold" fill="#111" text-anchor="middle">6.5</text>
<line x1="162.5" y1="500.6" x2="162.5" y2="502.1" stroke="#aaa" stroke-width="0.8"/>
<line x1="162.5" y1="404.3" x2="162.5" y2="405.8" stroke="#aaa" stroke-width="0.8"/>
<line x1="194.075" y1="500.6" x2="194.075" y2="502.1" stroke="#aaa" stroke-width="0.8"/>
<line x1="194.075" y1="404.3" x2="194.075" y2="405.8" stroke="#aaa" stroke-width="0.8"/>
<line x1="225.65" y1="500.6" x2="225.65" y2="502.1" stroke="#aaa" stroke-width="0.8"/>
<line x1="225.65" y1="404.3" x2="225.65" y2="405.8" stroke="#aaa" stroke-width="0.8"/>
<line x1="257.225" y1="500.6" x2="257.225" y2="502.1" stroke="#aaa" stroke-width="0.8"/>
<line x1="257.225" y1="404.3" x2="257.225" y2="405.8" stroke="#aaa" stroke-width="0.8"/>
<line x1="288.8" y1="500.6" x2="288.8" y2="502.1" stroke="#aaa" stroke-width="0.8"/>
<line x1="288.8" y1="404.3" x2="288.8" y2="405.8" stroke="#aaa" stroke-width="0.8"/>
<line x1="320.375" y1="500.6" x2="320.375" y2="502.1" stroke="#aaa" stroke-width="0.8"/>
<line x1="320.375" y1="404.3" x2="320.375" y2="405.8" stroke="#aaa" stroke-width="0.8"/>
<line x1="351.95" y1="500.6" x2="351.95" y2="502.1" stroke="#aaa" stroke-width="0.8"/>
<line x1="351.95" y1="404.3" x2="351.95" y2="405.8" stroke="#aaa" stroke-width="0.8"/>
<text x="415.0" y="516.2" font-size="12.5" font-weight="bold" fill="#111" text-anchor="middle">4.0</text>
<text x="477.85" y="516.2" font-size="12.5" font-weight="bold" fill="#111" text-anchor="middle">3.0</text>
<text x="540.7" y="516.2" font-size="12.5" font-weight="bold" fill="#111" text-anchor="middle">2.0</text>
<text x="603.55" y="516.2" font-size="12.5" font-weight="bold" fill="#111" text-anchor="middle">1.0</text>
<line x1="382.575" y1="500.6" x2="382.575" y2="502.1" stroke="#aaa" stroke-width="0.8"/>
<line x1="382.575" y1="404.3" x2="382.575" y2="405.8" stroke="#aaa" stroke-width="0.8"/>
<line x1="414.0" y1="500.6" x2="414.0" y2="502.1" stroke="#aaa" stroke-width="0.8"/>
<line x1="414.0" y1="404.3" x2="414.0" y2="405.8" stroke="#aaa" stroke-width="0.8"/>
<line x1="445.425" y1="500.6" x2="445.425" y2="502.1" stroke="#aaa" stroke-width="0.8"/>
<line x1="445.425" y1="404.3" x2="445.425" y2="405.8" stroke="#aaa" stroke-width="0.8"/>
<line x1="476.85" y1="500.6" x2="476.85" y2="502.1" stroke="#aaa" stroke-width="0.8"/>
<line x1="476.85" y1="404.3" x2="476.85" y2="405.8" stroke="#aaa" stroke-width="0.8"/>
<line x1="508.275" y1="500.6" x2="508.275" y2="502.1" stroke="#aaa" stroke-width="0.8"/>
<line x1="508.275" y1="404.3" x2="508.275" y2="405.8" stroke="#aaa" stroke-width="0.8"/>
<line x1="539.7" y1="500.6" x2="539.7" y2="502.1" stroke="#aaa" stroke-width="0.8"/>
<line x1="539.7" y1="404.3" x2="539.7" y2="405.8" stroke="#aaa" stroke-width="0.8"/>
<line x1="571.125" y1="500.6" x2="571.125" y2="502.1" stroke="#aaa" stroke-width="0.8"/>
<line x1="571.125" y1="404.3" x2="571.125" y2="405.8" stroke="#aaa" stroke-width="0.8"/>
<line x1="602.55" y1="500.6" x2="602.55" y2="502.1" stroke="#aaa" stroke-width="0.8"/>
<line x1="602.55" y1="404.3" x2="602.55" y2="405.8" stroke="#aaa" stroke-width="0.8"/>
<text x="631.1" y="513.5" font-size="12.5" font-weight="bold" fill="#111" text-anchor="middle">ppm</text>
<rect x="621.4" y="407.2" width="3.8" height="97.5" fill="url(#jet)"/>
<text x="630.5" y="411.9" font-size="12.5" font-weight="bold" fill="#111" text-anchor="start">0.96</text>
<text x="630.5" y="443.3" font-size="12.5" font-weight="bold" fill="#111" text-anchor="start">0.64</text>
<text x="630.5" y="476.1" font-size="12.5" font-weight="bold" fill="#111" text-anchor="start">0.32</text>
<text x="630.5" y="506.1" font-size="12.5" font-weight="bold" fill="#111" text-anchor="start">0</text>
<text x="671" y="458.0" font-size="11.4" font-weight="bold" fill="#111" text-anchor="middle" transform="rotate(-90 671 458.0)">coefficient |r|</text>
<text x="153.6" y="421.6" font-size="13" font-weight="normal" fill="#c8202c" text-anchor="middle" stroke="#c8202c" stroke-width="0.45">CI</text>
<text x="153.8" y="465.5" font-size="13" font-weight="normal" fill="#c8202c" text-anchor="middle" stroke="#c8202c" stroke-width="0.35">CO</text>
<text x="140.5" y="496.3" font-size="13" font-weight="normal" fill="#c8202c" text-anchor="start" stroke="#c8202c" stroke-width="0.3">5w+7d</text>
<text x="571.6" y="431.7" font-size="16.5" font-weight="normal" fill="#111" text-anchor="middle" stroke="#111" stroke-width="0.25">D</text>
<polyline points="137.0,36.5 138.0,36.8 139.0,36.2 140.0,36.5 141.0,36.3" fill="none" stroke="#6975e3" stroke-width="0.9"/>
<polyline points="141.0,36.3 142.0,36.6 143.0,36.3 144.0,36.4" fill="none" stroke="#6975e3" stroke-width="0.9"/>
<polyline points="144.0,36.4 145.0,36.4 146.0,36.1" fill="none" stroke="#69a6e3" stroke-width="0.9"/>
<polyline points="152.0,36.5 153.0,36.5 154.0,36.5" fill="none" stroke="#6975e3" stroke-width="0.9"/>
<polyline points="154.0,36.5 155.0,36.3 156.0,36.3 157.0,36.3" fill="none" stroke="#698de3" stroke-width="0.9"/>
<polyline points="160.0,36.5 161.0,36.5 162.0,36.4 163.0,36.5" fill="none" stroke="#6975e3" stroke-width="0.9"/>
<polyline points="163.0,36.5 164.0,36.6 165.0,36.6 166.0,36.5 167.0,36.5" fill="none" stroke="#6975e3" stroke-width="0.9"/>
<polyline points="167.0,36.5 168.0,36.6 169.0,36.5 170.0,36.3" fill="none" stroke="#69a6e3" stroke-width="0.9"/>
<polyline points="172.0,36.5 173.0,36.9 174.0,36.5 175.0,36.7" fill="none" stroke="#698de3" stroke-width="0.9"/>
<polyline points="175.0,36.7 176.0,36.4 177.0,36.0" fill="none" stroke="#8de3be" stroke-width="0.9"/>
<polyline points="177.0,36.0 178.0,36.6 179.0,35.3 180.0,36.4 181.0,36.6" fill="none" stroke="#e3a669" stroke-width="0.9"/>
<polyline points="181.0,36.6 182.0,36.1 183.0,36.5 184.0,36.5 185.0,37.3" fill="none" stroke="#698de3" stroke-width="0.9"/>
<polyline points="185.0,37.3 186.0,35.6 187.0,37.0 188.0,37.8" fill="none" stroke="#698de3" stroke-width="0.9"/>
<polyline points="190.0,36.5 191.0,36.7 192.0,36.1 193.0,36.8" fill="none" stroke="#698de3" stroke-width="0.9"/>
<polyline points="193.0,36.8 194.0,36.6 195.0,36.2 196.0,36.8" fill="none" stroke="#e3a669" stroke-width="0.9"/>
<polyline points="196.0,36.8 197.0,36.7 198.0,36.3 199.0,37.0" fill="none" stroke="#8de3be" stroke-width="0.9"/>
<polyline points="199.0,37.0 200.0,37.3 201.0,36.8 202.0,37.0" fill="none" stroke="#e3a669" stroke-width="0.9"/>
<polyline points="202.0,37.0 203.0,36.2 204.0,36.2 205.0,36.6 206.0,36.6" fill="none" stroke="#8de3be" stroke-width="0.9"/>
<polyline points="210.0,36.5 211.0,37.3 212.0,37.3" fill="none" stroke="#e7bf62" stroke-width="0.9"/>
<polyline points="212.0,37.3 213.0,36.1 214.0,38.6" fill="none" stroke="#62bfe7" stroke-width="0.9"/>
<polyline points="214.0,38.6 215.0,37.4 216.0,36.9" fill="none" stroke="#62bfe7" stroke-width="0.9"/>
<polyline points="216.0,36.9 217.0,37.2 218.0,36.7" fill="none" stroke="#e7bf62" stroke-width="0.9"/>
<polyline points="218.0,36.7 219.0,36.9 220.0,36.8 221.0,35.7" fill="none" stroke="#e7bf62" stroke-width="0.9"/>
<polyline points="221.0,35.7 222.0,36.8 223.0,34.7 224.0,35.3" fill="none" stroke="#d9e76f" stroke-width="0.9"/>
<polyline points="224.0,35.3 225.0,35.8 226.0,34.2 227.0,37.9" fill="none" stroke="#d9e76f" stroke-width="0.9"/>
<polyline points="227.0,37.9 228.0,36.7 229.0,36.4" fill="none" stroke="#6289e7" stroke-width="0.9"/>
<polyline points="229.0,36.4 230.0,35.7 231.0,35.6" fill="none" stroke="#6289e7" stroke-width="0.9"/>
<polyline points="231.0,35.6 232.0,36.8 233.0,37.1 234.0,34.4" fill="none" stroke="#89e7bf" stroke-width="0.9"/>
<polyline points="234.0,34.4 235.0,35.7 236.0,34.6" fill="none" stroke="#d9e76f" stroke-width="0.9"/>
<polyline points="236.0,34.6 237.0,37.3 238.0,35.6" fill="none" stroke="#e7bf62" stroke-width="0.9"/>
<polyline points="238.0,35.6 239.0,36.4 240.0,36.6 241.0,36.9 242.0,36.7" fill="none" stroke="#6289e7" stroke-width="0.9"/>
<polyline points="242.0,36.7 243.0,37.6 244.0,35.4 245.0,35.3" fill="none" stroke="#e7bf62" stroke-width="0.9"/>
<polyline points="245.0,35.3 246.0,37.5 247.0,34.8 248.0,37.2 249.0,37.9" fill="none" stroke="#6289e7" stroke-width="0.9"/>
<polyline points="249.0,37.9 250.0,37.3 251.0,35.6 252.0,35.8" fill="none" stroke="#62bfe7" stroke-width="0.9"/>
<polyline points="252.0,35.8 253.0,35.2 254.0,36.5" fill="none" stroke="#d9e76f" stroke-width="0.9"/>
<polyline points="254.0,36.5 255.0,37.2 256.0,35.9 257.0,37.3" fill="none" stroke="#e7bf62" stroke-width="0.9"/>
<polyline points="257.0,37.3 258.0,37.5 259.0,36.5 260.0,35.6" fill="none" stroke="#d9e76f" stroke-width="0.9"/>
<polyline points="260.0,35.6 261.0,37.2 262.0,36.0 263.0,36.2 264.0,35.9" fill="none" stroke="#d9e76f" stroke-width="0.9"/>
<polyline points="262.0,36.5 263.0,37.4 264.0,35.7 265.0,35.6" fill="none" stroke="#e7bf62" stroke-width="0.9"/>
<polyline points="265.0,35.6 266.0,36.0 267.0,34.2 268.0,36.6" fill="none" stroke="#bfe789" stroke-width="0.9"/>
<polyline points="268.0,36.6 269.0,37.4 270.0,36.2" fill="none" stroke="#e7bf62" stroke-width="0.9"/>
<polyline points="270.0,36.2 271.0,35.6 272.0,36.8" fill="none" stroke="#e7bf62" stroke-width="0.9"/>
<polyline points="272.0,36.8 273.0,35.4 274.0,37.5 275.0,35.6 276.0,34.8" fill="none" stroke="#e76f62" stroke-width="0.9"/>
<polyline points="276.0,34.8 277.0,36.8 278.0,36.6 279.0,36.7" fill="none" stroke="#e78962" stroke-width="0.9"/>
<polyline points="279.0,36.7 280.0,36.2 281.0,35.7 282.0,38.5" fill="none" stroke="#bfe789" stroke-width="0.9"/>
<polyline points="282.0,38.5 283.0,35.9 284.0,36.9 285.0,36.6" fill="none" stroke="#e7bf62" stroke-width="0.9"/>
<polyline points="285.0,36.6 286.0,35.6 287.0,37.1" fill="none" stroke="#bfe789" stroke-width="0.9"/>
<polyline points="287.0,37.1 288.0,36.4 289.0,38.3 290.0,36.0" fill="none" stroke="#e7bf62" stroke-width="0.9"/>
<polyline points="290.0,36.0 291.0,36.4 292.0,38.4 293.0,36.5 294.0,35.0" fill="none" stroke="#bfe789" stroke-width="0.9"/>
<polyline points="292.0,36.5 293.0,37.0 294.0,39.6 295.0,32.3" fill="none" stroke="#6289e7" stroke-width="0.9"/>
<polyline points="295.0,32.3 296.0,35.4 297.0,34.0 298.0,38.5" fill="none" stroke="#6262d9" stroke-width="0.9"/>
<polyline points="298.0,38.5 299.0,33.3 300.0,38.5" fill="none" stroke="#626fe7" stroke-width="0.9"/>
<polyline points="300.0,36.5 301.0,35.6 302.0,36.8 303.0,36.6" fill="none" stroke="#e78962" stroke-width="0.9"/>
<polyline points="303.0,36.6 304.0,36.4 305.0,34.4 306.0,37.0" fill="none" stroke="#a4e7a4" stroke-width="0.9"/>
<polyline points="306.0,37.0 307.0,36.0 308.0,33.8" fill="none" stroke="#e76f62" stroke-width="0.9"/>
<polyline points="308.0,33.8 309.0,37.2 310.0,39.6" fill="none" stroke="#62bfe7" stroke-width="0.9"/>
<polyline points="310.0,39.6 311.0,33.9 312.0,35.9 313.0,35.1" fill="none" stroke="#62bfe7" stroke-width="0.9"/>
<polyline points="313.0,35.1 314.0,39.5 315.0,36.1 316.0,36.5" fill="none" stroke="#e7d962" stroke-width="0.9"/>
<polyline points="316.0,36.5 317.0,36.7 318.0,34.8 319.0,39.2 320.0,37.0" fill="none" stroke="#62bfe7" stroke-width="0.9"/>
<polyline points="320.0,37.0 321.0,36.8 322.0,35.6 323.0,35.2 324.0,38.8" fill="none" stroke="#a4e7a4" stroke-width="0.9"/>
<polyline points="324.0,38.8 325.0,37.6 326.0,38.0 327.0,36.0 328.0,33.7" fill="none" stroke="#e76f62" stroke-width="0.9"/>
<polyline points="328.0,33.7 329.0,38.1 330.0,35.9 331.0,37.1 332.0,36.3" fill="none" stroke="#a4e7a4" stroke-width="0.9"/>
<polyline points="332.0,36.3 333.0,35.3 334.0,36.3 335.0,36.2 336.0,34.4" fill="none" stroke="#e78962" stroke-width="0.9"/>
<polyline points="336.0,34.4 337.0,35.9 338.0,37.9 339.0,38.3" fill="none" stroke="#a4e7a4" stroke-width="0.9"/>
<polyline points="339.0,38.3 340.0,33.8 341.0,38.8 342.0,33.3" fill="none" stroke="#e78962" stroke-width="0.9"/>
<polyline points="342.0,33.3 343.0,35.6 344.0,36.1 345.0,34.8" fill="none" stroke="#e78962" stroke-width="0.9"/>
<polyline points="345.0,36.5 346.0,36.4 347.0,37.4 348.0,36.7 349.0,36.1" fill="none" stroke="#69a6e3" stroke-width="0.9"/>
<polyline points="351.0,36.5 352.0,36.5 353.0,35.7 354.0,37.0 355.0,36.7" fill="none" stroke="#6975e3" stroke-width="0.9"/>
<polyline points="355.0,36.7 356.0,36.4 357.0,35.9 358.0,36.8" fill="none" stroke="#698de3" stroke-width="0.9"/>
<polyline points="358.0,36.8 359.0,36.8 360.0,36.7 361.0,36.8" fill="none" stroke="#6975e3" stroke-width="0.9"/>
<polyline points="361.0,36.8 362.0,36.5 363.0,36.6" fill="none" stroke="#698de3" stroke-width="0.9"/>
<polyline points="363.0,36.6 364.0,36.7 365.0,36.5 366.0,36.9" fill="none" stroke="#69a6e3" stroke-width="0.9"/>
<polyline points="366.0,36.9 367.0,36.8 368.0,36.1" fill="none" stroke="#69a6e3" stroke-width="0.9"/>
<polyline points="368.0,36.1 369.0,37.0 370.0,36.6 371.0,36.7 372.0,36.1" fill="none" stroke="#69a6e3" stroke-width="0.9"/>
<line x1="175.5" y1="36.5" x2="175.5" y2="31.5" stroke="#ffbf7f" stroke-width="1.1"/>
<line x1="185.5" y1="36.5" x2="185.5" y2="41.5" stroke="#ffd87f" stroke-width="1.1"/>
<line x1="196" y1="36.5" x2="196" y2="31.5" stroke="#ffbf7f" stroke-width="1.1"/>
<line x1="199" y1="36.5" x2="199" y2="31.5" stroke="#ffa57f" stroke-width="1.1"/>
<line x1="246" y1="36.5" x2="246" y2="30.5" stroke="#ffbf7f" stroke-width="1.1"/>
<line x1="251" y1="36.5" x2="251" y2="40.5" stroke="#f2ff8c" stroke-width="1.1"/>
<line x1="267.9" y1="36.5" x2="267.9" y2="99.0" stroke="#f27f7f" stroke-width="1.3"/>
<line x1="276.5" y1="36.5" x2="276.5" y2="14.5" stroke="#fcff82" stroke-width="1.3"/>
<line x1="279.6" y1="36.5" x2="279.6" y2="58.5" stroke="#ff9b7f" stroke-width="1.2100000000000002"/>
<line x1="285.2" y1="36.5" x2="285.2" y2="97.0" stroke="#f27f7f" stroke-width="1.3"/>
<line x1="293.5" y1="36.5" x2="293.5" y2="32.5" stroke="#7f7ffc" stroke-width="1.1"/>
<line x1="296.3" y1="36.5" x2="296.3" y2="30.5" stroke="#7f7ff2" stroke-width="1.1"/>
<line x1="302.7" y1="36.5" x2="302.7" y2="50.5" stroke="#ffa57f" stroke-width="1.2100000000000002"/>
<line x1="309" y1="36.5" x2="309" y2="44.5" stroke="#ffd87f" stroke-width="1.1"/>
<line x1="314.6" y1="36.5" x2="314.6" y2="46.5" stroke="#ffaf7f" stroke-width="1.1"/>
<line x1="290" y1="36.5" x2="290" y2="44.5" stroke="#ffbf7f" stroke-width="1.1"/>
<line x1="288" y1="36.5" x2="288" y2="42.5" stroke="#f2ff8c" stroke-width="1.1"/>
<line x1="283" y1="36.5" x2="283" y2="33.5" stroke="#bfffbf" stroke-width="1.1"/>
<line x1="350" y1="36.5" x2="350" y2="33.5" stroke="#ffd87f" stroke-width="1.1"/>
<polyline points="378.0,62.9 379.0,62.4 380.0,63.2 381.0,62.7" fill="none" stroke="#69d7e3" stroke-width="0.9"/>
<polyline points="384.0,62.9 385.0,63.4 386.0,62.9" fill="none" stroke="#d7e375" stroke-width="0.9"/>
<polyline points="386.0,62.9 387.0,63.1 388.0,63.1 389.0,63.5" fill="none" stroke="#69bee3" stroke-width="0.9"/>
<polyline points="389.0,63.5 390.0,62.5 391.0,62.7 392.0,63.1" fill="none" stroke="#8de3be" stroke-width="0.9"/>
<polyline points="395.0,62.9 396.0,63.1 397.0,63.1 398.0,63.1 399.0,63.7" fill="none" stroke="#69bee3" stroke-width="0.9"/>
<polyline points="400.0,62.9 401.0,62.1 402.0,64.4" fill="none" stroke="#d9e76f" stroke-width="0.9"/>
<polyline points="402.0,64.4 403.0,61.1 404.0,63.8 405.0,65.2" fill="none" stroke="#e78962" stroke-width="0.9"/>
<polyline points="405.0,65.2 406.0,63.1 407.0,61.7 408.0,63.7" fill="none" stroke="#e76f62" stroke-width="0.9"/>
<polyline points="408.0,63.7 409.0,64.7 410.0,61.9 411.0,65.1 412.0,64.4" fill="none" stroke="#e76f62" stroke-width="0.9"/>
<polyline points="412.0,64.4 413.0,63.6 414.0,60.7" fill="none" stroke="#e7a462" stroke-width="0.9"/>
<polyline points="414.0,60.7 415.0,58.6 416.0,62.8 417.0,63.3" fill="none" stroke="#e7bf62" stroke-width="0.9"/>
<polyline points="417.0,63.3 418.0,61.8 419.0,63.5 420.0,61.5" fill="none" stroke="#e76f62" stroke-width="0.9"/>
<polyline points="420.0,61.5 421.0,63.2 422.0,60.4 423.0,60.9" fill="none" stroke="#e7bf62" stroke-width="0.9"/>
<polyline points="423.0,60.9 424.0,64.2 425.0,62.7 426.0,63.6" fill="none" stroke="#e76f62" stroke-width="0.9"/>
<polyline points="426.0,63.6 427.0,63.3 428.0,66.5" fill="none" stroke="#e76f62" stroke-width="0.9"/>
<polyline points="428.0,66.5 429.0,63.2 430.0,64.4 431.0,63.1" fill="none" stroke="#d9e76f" stroke-width="0.9"/>
<polyline points="431.0,63.1 432.0,63.4 433.0,61.4 434.0,61.1 435.0,63.2" fill="none" stroke="#e7bf62" stroke-width="0.9"/>
<polyline points="435.0,63.2 436.0,58.7 437.0,61.1" fill="none" stroke="#e76f62" stroke-width="0.9"/>
<polyline points="437.0,61.1 438.0,61.3 439.0,62.5 440.0,63.2 441.0,63.4" fill="none" stroke="#e7bf62" stroke-width="0.9"/>
<polyline points="441.0,63.4 442.0,64.3 443.0,62.9 444.0,66.2" fill="none" stroke="#d9e76f" stroke-width="0.9"/>
<polyline points="444.0,66.2 445.0,64.8 446.0,62.5 447.0,65.0 448.0,62.8" fill="none" stroke="#e7bf62" stroke-width="0.9"/>
<polyline points="432.0,62.9 433.0,60.8 434.0,64.8" fill="none" stroke="#626fe7" stroke-width="0.9"/>
<polyline points="434.0,64.8 435.0,65.2 436.0,62.5 437.0,61.3 438.0,62.5" fill="none" stroke="#626fe7" stroke-width="0.9"/>
<polyline points="438.0,62.5 439.0,61.6 440.0,63.6 441.0,62.0 442.0,62.2" fill="none" stroke="#626fe7" stroke-width="0.9"/>
<polyline points="442.0,62.2 443.0,62.0 444.0,61.6 445.0,62.5 446.0,64.8" fill="none" stroke="#626fe7" stroke-width="0.9"/>
<polyline points="446.0,64.8 447.0,63.8 448.0,63.0" fill="none" stroke="#6262d9" stroke-width="0.9"/>
<polyline points="447.0,62.9 448.0,62.4 449.0,63.2 450.0,63.2" fill="none" stroke="#bee38d" stroke-width="0.9"/>
<polyline points="450.0,63.2 451.0,63.0 452.0,63.0" fill="none" stroke="#bee38d" stroke-width="0.9"/>
<polyline points="452.0,63.0 453.0,62.6 454.0,63.1 455.0,63.0" fill="none" stroke="#d7e375" stroke-width="0.9"/>
<polyline points="455.0,63.0 456.0,63.7 457.0,62.8 458.0,62.7" fill="none" stroke="#d7e375" stroke-width="0.9"/>
<polyline points="458.0,62.7 459.0,62.8 460.0,62.9" fill="none" stroke="#69bee3" stroke-width="0.9"/>
<polyline points="460.0,62.9 461.0,63.0 462.0,62.3 463.0,63.1" fill="none" stroke="#bee38d" stroke-width="0.9"/>
<polyline points="467.0,62.9 468.0,62.9 469.0,63.1 470.0,63.5" fill="none" stroke="#bee38d" stroke-width="0.9"/>
<polyline points="470.0,63.5 471.0,62.4 472.0,62.8 473.0,63.5" fill="none" stroke="#75e3d7" stroke-width="0.9"/>
<polyline points="473.0,63.5 474.0,62.9 475.0,62.6 476.0,62.9" fill="none" stroke="#69bee3" stroke-width="0.9"/>
<polyline points="482.0,62.9 483.0,62.8 484.0,62.5 485.0,62.9" fill="none" stroke="#d7e375" stroke-width="0.9"/>
<polyline points="485.0,62.9 486.0,63.0 487.0,62.8 488.0,63.5" fill="none" stroke="#75e3d7" stroke-width="0.9"/>
<polyline points="488.0,63.5 489.0,63.4 490.0,62.6 491.0,63.0 492.0,63.0" fill="none" stroke="#bee38d" stroke-width="0.9"/>
<polyline points="490.0,62.9 491.0,61.8 492.0,61.0 493.0,62.3" fill="none" stroke="#626fe7" stroke-width="0.9"/>
<polyline points="493.0,62.3 494.0,62.0 495.0,61.6 496.0,61.9 497.0,63.2" fill="none" stroke="#6262d9" stroke-width="0.9"/>
<polyline points="497.0,63.2 498.0,61.6 499.0,62.4 500.0,62.5 501.0,62.0" fill="none" stroke="#6262d9" stroke-width="0.9"/>
<polyline points="501.0,62.0 502.0,61.9 503.0,65.4" fill="none" stroke="#6262d9" stroke-width="0.9"/>
<polyline points="503.0,65.4 504.0,60.9 505.0,63.0 506.0,61.7" fill="none" stroke="#626fe7" stroke-width="0.9"/>
<polyline points="506.0,61.7 507.0,65.1 508.0,62.3 509.0,62.0" fill="none" stroke="#6262d9" stroke-width="0.9"/>
<polyline points="509.0,62.0 510.0,62.5 511.0,61.4 512.0,65.4" fill="none" stroke="#6289e7" stroke-width="0.9"/>
<polyline points="512.0,62.9 513.0,61.9 514.0,60.1 515.0,62.4 516.0,62.3" fill="none" stroke="#e7bf62" stroke-width="0.9"/>
<polyline points="516.0,62.3 517.0,63.1 518.0,62.3" fill="none" stroke="#e78962" stroke-width="0.9"/>
<polyline points="518.0,62.3 519.0,63.6 520.0,61.5 521.0,62.1 522.0,62.8" fill="none" stroke="#6289e7" stroke-width="0.9"/>
<polyline points="522.0,62.8 523.0,62.0 524.0,63.5 525.0,61.9" fill="none" stroke="#e7bf62" stroke-width="0.9"/>
<polyline points="525.0,61.9 526.0,63.0 527.0,61.0" fill="none" stroke="#e78962" stroke-width="0.9"/>
<polyline points="527.0,61.0 528.0,63.0 529.0,63.2" fill="none" stroke="#e7bf62" stroke-width="0.9"/>
<polyline points="529.0,63.2 530.0,64.2 531.0,62.6 532.0,63.0" fill="none" stroke="#e78962" stroke-width="0.9"/>
<polyline points="532.0,63.0 533.0,62.6 534.0,62.5" fill="none" stroke="#62bfe7" stroke-width="0.9"/>
<polyline points="534.0,62.5 535.0,63.5 536.0,64.0 537.0,63.5" fill="none" stroke="#e7bf62" stroke-width="0.9"/>
<polyline points="537.0,63.5 538.0,62.9 539.0,61.6" fill="none" stroke="#e7bf62" stroke-width="0.9"/>
<polyline points="539.0,61.6 540.0,60.9 541.0,63.0 542.0,62.4" fill="none" stroke="#e78962" stroke-width="0.9"/>
<polyline points="542.0,62.4 543.0,63.7 544.0,63.2 545.0,62.1" fill="none" stroke="#e7bf62" stroke-width="0.9"/>
<polyline points="545.0,62.1 546.0,61.3 547.0,63.0 548.0,64.0 549.0,63.4" fill="none" stroke="#62bfe7" stroke-width="0.9"/>
<polyline points="549.0,63.4 550.0,63.0 551.0,60.3 552.0,62.9 553.0,63.0" fill="none" stroke="#6289e7" stroke-width="0.9"/>
<polyline points="553.0,63.0 554.0,64.6 555.0,61.4" fill="none" stroke="#62bfe7" stroke-width="0.9"/>
<polyline points="555.0,61.4 556.0,62.5 557.0,61.3 558.0,62.1" fill="none" stroke="#e7bf62" stroke-width="0.9"/>
<polyline points="558.0,62.1 559.0,63.3 560.0,62.7 561.0,60.1" fill="none" stroke="#6289e7" stroke-width="0.9"/>
<polyline points="560.0,62.9 561.0,62.8 562.0,63.2 563.0,62.6" fill="none" stroke="#e3be69" stroke-width="0.9"/>
<polyline points="566.0,62.9 567.0,63.4 568.0,62.6 569.0,63.3" fill="none" stroke="#69bee3" stroke-width="0.9"/>
<polyline points="569.0,63.3 570.0,62.9 571.0,63.0" fill="none" stroke="#e38d69" stroke-width="0.9"/>
<polyline points="575.0,62.9 576.0,63.2 577.0,62.3 578.0,62.3" fill="none" stroke="#69bee3" stroke-width="0.9"/>
<polyline points="578.0,62.3 579.0,63.5 580.0,62.4 581.0,62.7 582.0,63.3" fill="none" stroke="#e3be69" stroke-width="0.9"/>
<polyline points="582.0,63.3 583.0,62.7 584.0,63.0 585.0,63.3" fill="none" stroke="#e38d69" stroke-width="0.9"/>
<polyline points="585.0,63.3 586.0,63.4 587.0,62.9 588.0,62.8" fill="none" stroke="#6975e3" stroke-width="0.9"/>
<polyline points="588.0,62.8 589.0,63.2 590.0,62.7 591.0,62.9 592.0,63.3" fill="none" stroke="#e3be69" stroke-width="0.9"/>
<polyline points="595.0,62.9 596.0,62.6 597.0,62.8 598.0,62.9" fill="none" stroke="#698de3" stroke-width="0.9"/>
<polyline points="600.0,62.9 601.0,63.1 602.0,63.0 603.0,62.9" fill="none" stroke="#e3be69" stroke-width="0.9"/>
<polyline points="603.0,62.9 604.0,62.7 605.0,63.3" fill="none" stroke="#69bee3" stroke-width="0.9"/>
<polyline points="605.0,63.3 606.0,62.8 607.0,63.0" fill="none" stroke="#6975e3" stroke-width="0.9"/>
<polyline points="607.0,63.0 608.0,62.5 609.0,63.0 610.0,63.3 611.0,62.7" fill="none" stroke="#69bee3" stroke-width="0.9"/>
<polyline points="611.0,62.7 612.0,62.9 613.0,62.8 614.0,63.0" fill="none" stroke="#e3be69" stroke-width="0.9"/>
<line x1="382.2" y1="62.9" x2="382.2" y2="55.9" stroke="#ffbf7f" stroke-width="1.1"/>
<line x1="408.7" y1="62.9" x2="408.7" y2="38.4" stroke="#ffa57f" stroke-width="1.3"/>
<line x1="408.5" y1="62.9" x2="408.5" y2="74.9" stroke="#fcff82" stroke-width="1.1"/>
<line x1="416.4" y1="62.9" x2="416.4" y2="5.899999999999999" stroke="#ff8c7f" stroke-width="1.3"/>
<line x1="416.2" y1="62.9" x2="416.2" y2="78.9" stroke="#f27f7f" stroke-width="1.3"/>
<line x1="448.7" y1="62.9" x2="448.7" y2="5.899999999999999" stroke="#a5ffd8" stroke-width="1.3"/>
<line x1="449.5" y1="62.9" x2="449.5" y2="27.9" stroke="#bfffbf" stroke-width="1.1"/>
<line x1="459.2" y1="62.9" x2="459.2" y2="28.9" stroke="#96ffe8" stroke-width="1.3"/>
<line x1="458.8" y1="62.9" x2="458.8" y2="101.9" stroke="#7f7ff2" stroke-width="1.3"/>
<line x1="473" y1="62.9" x2="473" y2="5.899999999999999" stroke="#ffaf7f" stroke-width="1.3"/>
<line x1="474.6" y1="62.9" x2="474.6" y2="75.9" stroke="#7ff2ff" stroke-width="1.3"/>
<line x1="483.3" y1="62.9" x2="483.3" y2="101.9" stroke="#a5ffd8" stroke-width="1.1"/>
<line x1="480.8" y1="62.9" x2="480.8" y2="58.9" stroke="#ffbf7f" stroke-width="1.1"/>
<line x1="497.3" y1="62.9" x2="497.3" y2="53.9" stroke="#7f7ff2" stroke-width="1.3"/>
<line x1="494.8" y1="62.9" x2="494.8" y2="76.9" stroke="#7f8cff" stroke-width="1.3"/>
<line x1="503.5" y1="62.9" x2="503.5" y2="49.9" stroke="#7f7ffc" stroke-width="1.3"/>
<line x1="505" y1="62.9" x2="505" y2="82.9" stroke="#7fa5ff" stroke-width="1.3"/>
<line x1="511" y1="62.9" x2="511" y2="70.9" stroke="#7ff2ff" stroke-width="1.3"/>
<line x1="515.4" y1="62.9" x2="515.4" y2="58.9" stroke="#ffd87f" stroke-width="1.1"/>
<line x1="531" y1="62.9" x2="531" y2="68.9" stroke="#fff27f" stroke-width="1.1"/>
<line x1="535" y1="62.9" x2="535" y2="59.9" stroke="#ff8c7f" stroke-width="1.1"/>
<line x1="580" y1="62.9" x2="580" y2="57.9" stroke="#7f8cff" stroke-width="1.1"/>
<line x1="591" y1="62.9" x2="591" y2="60.9" stroke="#ffa57f" stroke-width="1.1"/>
<line x1="594" y1="62.9" x2="594" y2="58.9" stroke="#f2ff8c" stroke-width="1.1"/>
<line x1="587" y1="62.9" x2="587" y2="65.9" stroke="#ffd87f" stroke-width="1.1"/>
<text x="186.1" y="16.9" font-size="13" font-weight="normal" fill="#111" text-anchor="middle" stroke="#111" stroke-width="0.3">17</text>
<polyline points="175.8,26.0 175.8,20.8 198.3,20.8 198.3,25.8" fill="none" stroke="#1a1a1a" stroke-width="1.4"/>
<polyline points="195.4,30.6 195.4,25.8 201.0,25.8 201.0,30.6" fill="none" stroke="#1a1a1a" stroke-width="1.4"/>
<polyline points="185.8,17.8 185.8,20.8" fill="none" stroke="#1a1a1a" stroke-width="1.4"/>
<polyline points="185.8,43.3 185.8,55.8 205.0,55.8 205.0,43.3" fill="none" stroke="#1a1a1a" stroke-width="1.4"/>
<polyline points="195.8,55.8 195.8,70.2" fill="none" stroke="#1a1a1a" stroke-width="1.4"/>
<text x="195" y="80.8" font-size="13" font-weight="normal" fill="#111" text-anchor="middle" stroke="#111" stroke-width="0.3">20</text>
<text x="246.7" y="20.7" font-size="13" font-weight="normal" fill="#111" text-anchor="middle" stroke="#111" stroke-width="0.3">17</text>
<polyline points="246.0,23.0 246.0,29.0" fill="none" stroke="#1a1a1a" stroke-width="1.4"/>
<text x="251.5" y="67.4" font-size="13" font-weight="normal" fill="#111" text-anchor="middle" stroke="#111" stroke-width="0.3">20</text>
<polyline points="251.0,43.0 251.0,55.0" fill="none" stroke="#1a1a1a" stroke-width="1.4"/>
<text x="278.3" y="92.3" font-size="13" font-weight="normal" fill="#111" text-anchor="middle" stroke="#111" stroke-width="0.3">11</text>
<polyline points="267.5,68.5 277.7,80.4 285.8,68.5" fill="none" stroke="#1a1a1a" stroke-width="1.4"/>
<polyline points="279.0,62.0 277.7,80.4" fill="none" stroke="#1a1a1a" stroke-width="1.4"/>
<polyline points="277.0,62.0 281.0,62.0" fill="none" stroke="#1a1a1a" stroke-width="1.4"/>
<text x="350.4" y="69.5" font-size="13" font-weight="normal" fill="#111" text-anchor="middle" stroke="#111" stroke-width="0.3">19</text>
<polyline points="350.4,46.7 350.4,57.0" fill="none" stroke="#1a1a1a" stroke-width="1.4"/>
<text x="424.6" y="25" font-size="13" font-weight="normal" fill="#111" text-anchor="middle" stroke="#111" stroke-width="0.3">9</text>
<polyline points="418.5,33.0 424.0,27.0" fill="none" stroke="#1a1a1a" stroke-width="1.4"/>
<text x="386.6" y="39.4" font-size="13" font-weight="normal" fill="#111" text-anchor="middle" stroke="#111" stroke-width="0.3">17</text>
<polyline points="382.4,52.5 385.7,41.5" fill="none" stroke="#1a1a1a" stroke-width="1.4"/>
<text x="386.2" y="83.7" font-size="13" font-weight="normal" fill="#111" text-anchor="middle" stroke="#111" stroke-width="0.3">20</text>
<polyline points="385.7,68.0 385.7,73.0" fill="none" stroke="#1a1a1a" stroke-width="1.4"/>
<text x="399.6" y="99" font-size="13" font-weight="normal" fill="#111" text-anchor="middle" stroke="#111" stroke-width="0.3">10</text>
<polyline points="400.0,88.0 409.0,76.0" fill="none" stroke="#1a1a1a" stroke-width="1.4"/>
<text x="415.5" y="99" font-size="13" font-weight="normal" fill="#111" text-anchor="middle" stroke="#111" stroke-width="0.3">11</text>
<polyline points="415.5,83.0 415.5,87.0" fill="none" stroke="#1a1a1a" stroke-width="1.4"/>
<text x="454.4" y="18.3" font-size="13" font-weight="normal" fill="#111" text-anchor="middle" stroke="#111" stroke-width="0.3">7</text>
<polyline points="449.0,27.0 454.0,21.0 460.0,27.0" fill="none" stroke="#1a1a1a" stroke-width="1.4"/>
<text x="453.9" y="47" font-size="13" font-weight="normal" fill="#111" text-anchor="middle" stroke="#111" stroke-width="0.3">13</text>
<polyline points="456.0,49.0 457.5,55.0" fill="none" stroke="#1a1a1a" stroke-width="1.4"/>
<text x="453.5" y="99" font-size="13" font-weight="normal" fill="#111" text-anchor="middle" stroke="#111" stroke-width="0.3">5</text>
<polyline points="456.0,89.0 459.0,83.0" fill="none" stroke="#1a1a1a" stroke-width="1.4"/>
<text x="476.5" y="99" font-size="13" font-weight="normal" fill="#111" text-anchor="middle" stroke="#111" stroke-width="0.3">10</text>
<polyline points="473.5,84.0 477.0,89.0" fill="none" stroke="#1a1a1a" stroke-width="1.4"/>
<text x="480.4" y="20.2" font-size="13" font-weight="normal" fill="#111" text-anchor="middle" stroke="#111" stroke-width="0.3">9</text>
<polyline points="475.5,30.0 478.0,23.0" fill="none" stroke="#1a1a1a" stroke-width="1.4"/>
<text x="481.6" y="47" font-size="13" font-weight="normal" fill="#111" text-anchor="middle" stroke="#111" stroke-width="0.3">16</text>
<polyline points="480.0,50.0 480.0,55.0" fill="none" stroke="#1a1a1a" stroke-width="1.4"/>
<text x="515.2" y="40.8" font-size="13" font-weight="normal" fill="#111" text-anchor="middle" stroke="#111" stroke-width="0.3">13</text>
<polyline points="516.0,45.0 516.0,50.0" fill="none" stroke="#1a1a1a" stroke-width="1.4"/>
<text x="489" y="84.6" font-size="13" font-weight="normal" fill="#111" text-anchor="middle" stroke="#111" stroke-width="0.3">29</text>
<polyline points="489.0,67.0 489.0,73.0" fill="none" stroke="#1a1a1a" stroke-width="1.4"/>
<text x="499.3" y="97" font-size="13" font-weight="normal" fill="#111" text-anchor="middle" stroke="#111" stroke-width="0.3">12</text>
<polyline points="500.0,66.0 500.0,87.0" fill="none" stroke="#1a1a1a" stroke-width="1.4"/>
<text x="530.5" y="90.8" font-size="13" font-weight="normal" fill="#111" text-anchor="middle" stroke="#111" stroke-width="0.3">29</text>
<polyline points="531.0,75.0 531.0,80.0" fill="none" stroke="#1a1a1a" stroke-width="1.4"/>
<text x="593.5" y="47.5" font-size="13" font-weight="normal" fill="#111" text-anchor="middle" stroke="#111" stroke-width="0.3">2</text>
<polyline points="594.0,51.0 594.0,56.0" fill="none" stroke="#1a1a1a" stroke-width="1.4"/>
<polyline points="137.0,167.6 138.0,167.4 139.0,167.3 140.0,167.6 141.0,167.5" fill="none" stroke="#698de3" stroke-width="0.9"/>
<polyline points="141.0,167.5 142.0,167.6 143.0,167.9 144.0,167.6 145.0,167.6" fill="none" stroke="#69a6e3" stroke-width="0.9"/>
<polyline points="145.0,167.6 146.0,167.7 147.0,167.5 148.0,167.3" fill="none" stroke="#698de3" stroke-width="0.9"/>
<polyline points="152.0,167.6 153.0,167.8 154.0,167.9 155.0,167.5" fill="none" stroke="#698de3" stroke-width="0.9"/>
<polyline points="155.0,167.5 156.0,167.6 157.0,167.5 158.0,167.7 159.0,167.7" fill="none" stroke="#69a6e3" stroke-width="0.9"/>
<polyline points="162.0,167.6 163.0,167.4 164.0,168.2 165.0,167.7" fill="none" stroke="#6975e3" stroke-width="0.9"/>
<polyline points="165.0,167.7 166.0,167.8 167.0,167.5 168.0,167.3" fill="none" stroke="#69a6e3" stroke-width="0.9"/>
<polyline points="168.0,167.3 169.0,167.6 170.0,167.1 171.0,167.7 172.0,167.4" fill="none" stroke="#698de3" stroke-width="0.9"/>
<polyline points="176.0,167.6 177.0,167.8 178.0,167.8 179.0,166.8" fill="none" stroke="#69bee3" stroke-width="0.9"/>
<polyline points="179.0,166.8 180.0,167.7 181.0,166.7 182.0,167.2" fill="none" stroke="#69bee3" stroke-width="0.9"/>
<polyline points="182.0,167.2 183.0,167.5 184.0,168.1 185.0,167.6" fill="none" stroke="#69bee3" stroke-width="0.9"/>
<polyline points="187.0,167.6 188.0,167.2 189.0,167.7 190.0,167.5" fill="none" stroke="#8de3be" stroke-width="0.9"/>
<polyline points="190.0,167.5 191.0,167.8 192.0,167.9 193.0,167.3 194.0,167.6" fill="none" stroke="#698de3" stroke-width="0.9"/>
<polyline points="194.0,167.6 195.0,167.3 196.0,167.9 197.0,168.2" fill="none" stroke="#8de3be" stroke-width="0.9"/>
<polyline points="200.0,167.6 201.0,168.5 202.0,167.7 203.0,167.4" fill="none" stroke="#698de3" stroke-width="0.9"/>
<polyline points="203.0,167.4 204.0,167.9 205.0,167.7 206.0,168.6 207.0,167.5" fill="none" stroke="#8de3be" stroke-width="0.9"/>
<polyline points="207.0,167.5 208.0,167.2 209.0,167.2 210.0,167.6 211.0,167.4" fill="none" stroke="#698de3" stroke-width="0.9"/>
<polyline points="214.0,167.6 215.0,167.8 216.0,167.3 217.0,167.4" fill="none" stroke="#698de3" stroke-width="0.9"/>
<polyline points="217.0,167.4 218.0,167.2 219.0,167.9 220.0,167.9" fill="none" stroke="#d7e375" stroke-width="0.9"/>
<polyline points="220.0,167.9 221.0,167.8 222.0,166.2 223.0,167.7" fill="none" stroke="#d7e375" stroke-width="0.9"/>
<polyline points="223.0,167.7 224.0,167.8 225.0,167.7 226.0,167.9 227.0,167.5" fill="none" stroke="#d7e375" stroke-width="0.9"/>
<polyline points="227.0,167.5 228.0,167.5 229.0,167.7" fill="none" stroke="#d7e375" stroke-width="0.9"/>
<polyline points="233.0,167.6 234.0,167.8 235.0,167.3" fill="none" stroke="#698de3" stroke-width="0.9"/>
<polyline points="235.0,167.6 236.0,167.2 237.0,166.6 238.0,167.7 239.0,168.4" fill="none" stroke="#6fe7d9" stroke-width="0.9"/>
<polyline points="239.0,168.4 240.0,170.1 241.0,165.3 242.0,167.4" fill="none" stroke="#62bfe7" stroke-width="0.9"/>
<polyline points="242.0,167.4 243.0,165.8 244.0,167.1 245.0,167.4 246.0,167.0" fill="none" stroke="#6289e7" stroke-width="0.9"/>
<polyline points="246.0,167.0 247.0,166.8 248.0,168.9" fill="none" stroke="#6289e7" stroke-width="0.9"/>
<polyline points="248.0,168.9 249.0,168.5 250.0,168.3 251.0,167.6 252.0,167.4" fill="none" stroke="#6289e7" stroke-width="0.9"/>
<polyline points="252.0,167.4 253.0,168.4 254.0,168.9 255.0,166.6 256.0,166.9" fill="none" stroke="#62a4e7" stroke-width="0.9"/>
<polyline points="256.0,166.9 257.0,168.1 258.0,167.3" fill="none" stroke="#62bfe7" stroke-width="0.9"/>
<polyline points="258.0,167.3 259.0,168.5 260.0,167.4 261.0,168.0" fill="none" stroke="#6fe7d9" stroke-width="0.9"/>
<polyline points="261.0,168.0 262.0,168.1 263.0,169.3 264.0,167.5" fill="none" stroke="#62bfe7" stroke-width="0.9"/>
<polyline points="264.0,167.5 265.0,167.3 266.0,167.7 267.0,167.5" fill="none" stroke="#62a4e7" stroke-width="0.9"/>
<polyline points="265.0,167.6 266.0,168.5 267.0,169.9 268.0,168.1" fill="none" stroke="#e78962" stroke-width="0.9"/>
<polyline points="268.0,168.1 269.0,167.8 270.0,168.5 271.0,167.4" fill="none" stroke="#e7bf62" stroke-width="0.9"/>
<polyline points="271.0,167.4 272.0,166.1 273.0,170.2 274.0,167.8" fill="none" stroke="#bfe789" stroke-width="0.9"/>
<polyline points="274.0,167.8 275.0,166.4 276.0,168.0 277.0,167.1" fill="none" stroke="#e78962" stroke-width="0.9"/>
<polyline points="277.0,167.1 278.0,167.4 279.0,169.5 280.0,166.6" fill="none" stroke="#e7bf62" stroke-width="0.9"/>
<polyline points="280.0,166.6 281.0,167.6 282.0,168.1 283.0,166.2" fill="none" stroke="#bfe789" stroke-width="0.9"/>
<polyline points="283.0,166.2 284.0,170.1 285.0,167.2 286.0,168.0" fill="none" stroke="#bfe789" stroke-width="0.9"/>
<polyline points="286.0,168.0 287.0,168.4 288.0,167.1" fill="none" stroke="#e78962" stroke-width="0.9"/>
<polyline points="288.0,167.1 289.0,167.7 290.0,167.2" fill="none" stroke="#e78962" stroke-width="0.9"/>
<polyline points="290.0,167.2 291.0,167.5 292.0,166.4 293.0,167.3" fill="none" stroke="#e78962" stroke-width="0.9"/>
<polyline points="292.0,167.6 293.0,170.3 294.0,172.2" fill="none" stroke="#6262d9" stroke-width="0.9"/>
<polyline points="294.0,172.2 295.0,168.9 296.0,170.2 297.0,170.7" fill="none" stroke="#6262d9" stroke-width="0.9"/>
<polyline points="297.0,170.7 298.0,168.2 299.0,164.7" fill="none" stroke="#6289e7" stroke-width="0.9"/>
<polyline points="299.0,164.7 300.0,164.8 301.0,171.4 302.0,167.7 303.0,168.2" fill="none" stroke="#6289e7" stroke-width="0.9"/>
<polyline points="302.0,167.6 303.0,167.8 304.0,166.9 305.0,169.2" fill="none" stroke="#62bfe7" stroke-width="0.9"/>
<polyline points="305.0,169.2 306.0,164.7 307.0,167.5 308.0,166.9" fill="none" stroke="#e76f62" stroke-width="0.9"/>
<polyline points="308.0,166.9 309.0,165.9 310.0,165.5 311.0,166.2" fill="none" stroke="#62bfe7" stroke-width="0.9"/>
<polyline points="311.0,166.2 312.0,167.7 313.0,169.2 314.0,168.0 315.0,165.0" fill="none" stroke="#a4e7a4" stroke-width="0.9"/>
<polyline points="315.0,165.0 316.0,166.5 317.0,167.7 318.0,166.1" fill="none" stroke="#62bfe7" stroke-width="0.9"/>
<polyline points="318.0,166.1 319.0,166.7 320.0,165.7 321.0,166.2" fill="none" stroke="#e76f62" stroke-width="0.9"/>
<polyline points="321.0,166.2 322.0,168.3 323.0,166.9 324.0,167.8 325.0,167.8" fill="none" stroke="#e78962" stroke-width="0.9"/>
<polyline points="325.0,167.8 326.0,165.2 327.0,167.5 328.0,167.8 329.0,167.3" fill="none" stroke="#62bfe7" stroke-width="0.9"/>
<polyline points="329.0,167.3 330.0,165.9 331.0,166.8 332.0,167.9" fill="none" stroke="#a4e7a4" stroke-width="0.9"/>
<polyline points="332.0,167.9 333.0,166.5 334.0,167.4" fill="none" stroke="#e7bf62" stroke-width="0.9"/>
<polyline points="334.0,167.4 335.0,168.0 336.0,167.8 337.0,165.8" fill="none" stroke="#e76f62" stroke-width="0.9"/>
<polyline points="337.0,165.8 338.0,166.8 339.0,168.4 340.0,165.4" fill="none" stroke="#e76f62" stroke-width="0.9"/>
<polyline points="340.0,165.4 341.0,167.6 342.0,169.0 343.0,168.2 344.0,166.9" fill="none" stroke="#62bfe7" stroke-width="0.9"/>
<polyline points="344.0,166.9 345.0,168.4 346.0,165.1 347.0,167.8" fill="none" stroke="#a4e7a4" stroke-width="0.9"/>
<polyline points="345.0,167.6 346.0,167.6 347.0,167.2 348.0,167.6" fill="none" stroke="#69a6e3" stroke-width="0.9"/>
<polyline points="348.0,167.6 349.0,167.6 350.0,168.0 351.0,167.8" fill="none" stroke="#6975e3" stroke-width="0.9"/>
<polyline points="351.0,167.8 352.0,167.4 353.0,167.1" fill="none" stroke="#69a6e3" stroke-width="0.9"/>
<polyline points="356.0,167.6 357.0,167.3 358.0,167.4 359.0,167.8" fill="none" stroke="#69a6e3" stroke-width="0.9"/>
<polyline points="359.0,167.8 360.0,167.9 361.0,167.7 362.0,167.5" fill="none" stroke="#69a6e3" stroke-width="0.9"/>
<polyline points="362.0,167.5 363.0,167.5 364.0,167.3 365.0,167.7" fill="none" stroke="#698de3" stroke-width="0.9"/>
<polyline points="365.0,167.7 366.0,167.6 367.0,167.4 368.0,167.5 369.0,167.8" fill="none" stroke="#6975e3" stroke-width="0.9"/>
<polyline points="369.0,167.8 370.0,167.7 371.0,167.8 372.0,167.3 373.0,167.7" fill="none" stroke="#69a6e3" stroke-width="0.9"/>
<polyline points="373.0,167.7 374.0,167.8 375.0,167.4 376.0,167.5" fill="none" stroke="#698de3" stroke-width="0.9"/>
<line x1="185" y1="167.6" x2="185" y2="171.6" stroke="#ffd87f" stroke-width="1.1"/>
<line x1="204.5" y1="167.6" x2="204.5" y2="171.6" stroke="#ffbf7f" stroke-width="1.1"/>
<line x1="238.5" y1="167.6" x2="238.5" y2="160.6" stroke="#fff27f" stroke-width="1.1"/>
<line x1="252" y1="167.6" x2="252" y2="170.6" stroke="#fff27f" stroke-width="1.1"/>
<line x1="268.5" y1="167.6" x2="268.5" y2="230.6" stroke="#f27f7f" stroke-width="1.3"/>
<line x1="278.2" y1="167.6" x2="278.2" y2="142.6" stroke="#fcff82" stroke-width="1.3"/>
<line x1="280.7" y1="167.6" x2="280.7" y2="199.6" stroke="#ff8c7f" stroke-width="1.2100000000000002"/>
<line x1="286.3" y1="167.6" x2="286.3" y2="229.6" stroke="#f27f7f" stroke-width="1.3"/>
<line x1="298.5" y1="167.6" x2="298.5" y2="161.1" stroke="#7f7ffc" stroke-width="1.1"/>
<line x1="296" y1="167.6" x2="296" y2="162.6" stroke="#7f8cff" stroke-width="1.1"/>
<line x1="304.3" y1="167.6" x2="304.3" y2="182.1" stroke="#ffa57f" stroke-width="1.2100000000000002"/>
<line x1="310" y1="167.6" x2="310" y2="173.6" stroke="#ffd87f" stroke-width="1.1"/>
<line x1="316" y1="167.6" x2="316" y2="163.6" stroke="#7fd8ff" stroke-width="1.1"/>
<line x1="322" y1="167.6" x2="322" y2="172.6" stroke="#ffa57f" stroke-width="1.1"/>
<line x1="327" y1="167.6" x2="327" y2="171.6" stroke="#ff9b7f" stroke-width="1.1"/>
<polyline points="378.0,189.6 379.0,189.7 380.0,189.2 381.0,189.2" fill="none" stroke="#8de3be" stroke-width="0.9"/>
<polyline points="385.0,189.6 386.0,189.8 387.0,189.8 388.0,189.7" fill="none" stroke="#69bee3" stroke-width="0.9"/>
<polyline points="388.0,189.7 389.0,189.4 390.0,190.4 391.0,190.0 392.0,189.3" fill="none" stroke="#698de3" stroke-width="0.9"/>
<polyline points="395.0,189.6 396.0,189.4 397.0,189.6 398.0,189.7" fill="none" stroke="#8de3be" stroke-width="0.9"/>
<polyline points="398.0,189.6 399.0,191.2 400.0,187.6 401.0,189.4" fill="none" stroke="#e76f62" stroke-width="0.9"/>
<polyline points="401.0,189.4 402.0,189.2 403.0,188.8 404.0,190.0 405.0,190.8" fill="none" stroke="#e7a462" stroke-width="0.9"/>
<polyline points="405.0,190.8 406.0,190.8 407.0,191.0 408.0,189.2 409.0,190.2" fill="none" stroke="#e76f62" stroke-width="0.9"/>
<polyline points="409.0,190.2 410.0,188.9 411.0,189.0 412.0,191.1" fill="none" stroke="#e7a462" stroke-width="0.9"/>
<polyline points="412.0,191.1 413.0,187.5 414.0,191.1" fill="none" stroke="#e76f62" stroke-width="0.9"/>
<polyline points="414.0,191.1 415.0,185.6 416.0,190.6" fill="none" stroke="#e76f62" stroke-width="0.9"/>
<polyline points="416.0,190.6 417.0,189.1 418.0,192.6" fill="none" stroke="#e78962" stroke-width="0.9"/>
<polyline points="418.0,192.6 419.0,188.7 420.0,191.0 421.0,190.5" fill="none" stroke="#e7a462" stroke-width="0.9"/>
<polyline points="421.0,190.5 422.0,191.0 423.0,190.2 424.0,188.7 425.0,191.2" fill="none" stroke="#e76f62" stroke-width="0.9"/>
<polyline points="425.0,191.2 426.0,190.5 427.0,190.9 428.0,188.7" fill="none" stroke="#e78962" stroke-width="0.9"/>
<polyline points="428.0,188.7 429.0,189.7 430.0,189.4" fill="none" stroke="#e78962" stroke-width="0.9"/>
<polyline points="430.0,189.4 431.0,186.2 432.0,187.5 433.0,188.4 434.0,187.3" fill="none" stroke="#e7bf62" stroke-width="0.9"/>
<polyline points="434.0,187.3 435.0,188.8 436.0,192.1 437.0,191.9 438.0,190.7" fill="none" stroke="#e7a462" stroke-width="0.9"/>
<polyline points="438.0,190.7 439.0,188.9 440.0,190.4 441.0,188.5 442.0,189.0" fill="none" stroke="#e7bf62" stroke-width="0.9"/>
<polyline points="442.0,189.0 443.0,186.4 444.0,190.9" fill="none" stroke="#e76f62" stroke-width="0.9"/>
<polyline points="444.0,190.9 445.0,189.9 446.0,189.4 447.0,191.9" fill="none" stroke="#e78962" stroke-width="0.9"/>
<polyline points="445.0,189.6 446.0,189.3 447.0,189.9 448.0,189.7 449.0,189.5" fill="none" stroke="#6975e3" stroke-width="0.9"/>
<polyline points="449.0,189.5 450.0,189.2 451.0,189.2" fill="none" stroke="#69bee3" stroke-width="0.9"/>
<polyline points="451.0,189.2 452.0,189.5 453.0,190.4" fill="none" stroke="#69bee3" stroke-width="0.9"/>
<polyline points="453.0,190.4 454.0,189.8 455.0,189.7 456.0,189.2 457.0,189.6" fill="none" stroke="#6975e3" stroke-width="0.9"/>
<polyline points="457.0,189.6 458.0,189.3 459.0,189.4 460.0,189.6" fill="none" stroke="#8de3be" stroke-width="0.9"/>
<polyline points="470.0,189.6 471.0,189.4 472.0,189.7 473.0,189.3 474.0,189.3" fill="none" stroke="#69bee3" stroke-width="0.9"/>
<polyline points="474.0,189.3 475.0,189.8 476.0,189.4 477.0,189.3" fill="none" stroke="#8de3be" stroke-width="0.9"/>
<polyline points="477.0,189.3 478.0,190.5 479.0,188.7 480.0,190.0" fill="none" stroke="#69bee3" stroke-width="0.9"/>
<polyline points="480.0,190.0 481.0,188.8 482.0,190.2 483.0,189.7 484.0,189.2" fill="none" stroke="#69bee3" stroke-width="0.9"/>
<polyline points="483.0,189.6 484.0,190.3 485.0,189.6 486.0,191.3 487.0,188.4" fill="none" stroke="#6262d9" stroke-width="0.9"/>
<polyline points="487.0,188.4 488.0,190.9 489.0,190.1 490.0,189.0" fill="none" stroke="#62bfe7" stroke-width="0.9"/>
<polyline points="490.0,189.0 491.0,188.5 492.0,189.1 493.0,189.2" fill="none" stroke="#626fe7" stroke-width="0.9"/>
<polyline points="493.0,189.2 494.0,188.0 495.0,190.4 496.0,190.4" fill="none" stroke="#62bfe7" stroke-width="0.9"/>
<polyline points="496.0,190.4 497.0,189.7 498.0,190.4 499.0,191.2" fill="none" stroke="#6262d9" stroke-width="0.9"/>
<polyline points="499.0,191.2 500.0,189.7 501.0,189.1 502.0,188.4" fill="none" stroke="#62bfe7" stroke-width="0.9"/>
<polyline points="502.0,188.4 503.0,188.2 504.0,190.8 505.0,190.1 506.0,190.1" fill="none" stroke="#6262d9" stroke-width="0.9"/>
<polyline points="506.0,190.1 507.0,190.0 508.0,190.7" fill="none" stroke="#62bfe7" stroke-width="0.9"/>
<polyline points="508.0,190.7 509.0,187.5 510.0,191.1" fill="none" stroke="#62bfe7" stroke-width="0.9"/>
<polyline points="510.0,191.1 511.0,189.8 512.0,190.0 513.0,187.4 514.0,190.5" fill="none" stroke="#62bfe7" stroke-width="0.9"/>
<polyline points="512.0,189.6 513.0,189.7 514.0,190.3 515.0,189.4" fill="none" stroke="#69bee3" stroke-width="0.9"/>
<polyline points="518.0,189.6 519.0,188.7 520.0,189.3" fill="none" stroke="#e3be69" stroke-width="0.9"/>
<polyline points="528.0,189.6 529.0,189.6 530.0,189.6 531.0,189.5" fill="none" stroke="#e3be69" stroke-width="0.9"/>
<polyline points="535.0,189.6 536.0,189.4 537.0,189.4 538.0,190.7" fill="none" stroke="#e3be69" stroke-width="0.9"/>
<polyline points="542.0,189.6 543.0,190.1 544.0,189.8 545.0,189.7" fill="none" stroke="#e38d69" stroke-width="0.9"/>
<polyline points="545.0,189.7 546.0,189.5 547.0,189.9 548.0,188.9" fill="none" stroke="#e3be69" stroke-width="0.9"/>
<polyline points="555.0,189.6 556.0,190.6 557.0,189.7 558.0,190.0" fill="none" stroke="#d7e375" stroke-width="0.9"/>
<polyline points="558.0,190.0 559.0,189.3 560.0,189.2 561.0,189.5" fill="none" stroke="#e38d69" stroke-width="0.9"/>
<polyline points="563.0,189.6 564.0,189.9 565.0,189.6" fill="none" stroke="#69bee3" stroke-width="0.9"/>
<polyline points="565.0,189.6 566.0,189.0 567.0,189.8 568.0,189.8" fill="none" stroke="#e3be69" stroke-width="0.9"/>
<polyline points="568.0,189.8 569.0,190.1 570.0,189.6" fill="none" stroke="#d7e375" stroke-width="0.9"/>
<polyline points="570.0,189.6 571.0,189.9 572.0,189.6 573.0,190.2" fill="none" stroke="#d7e375" stroke-width="0.9"/>
<polyline points="573.0,190.2 574.0,189.8 575.0,188.5 576.0,189.8 577.0,188.8" fill="none" stroke="#d7e375" stroke-width="0.9"/>
<polyline points="577.0,188.8 578.0,189.6 579.0,189.1" fill="none" stroke="#69bee3" stroke-width="0.9"/>
<polyline points="579.0,189.1 580.0,188.6 581.0,189.5 582.0,189.6" fill="none" stroke="#e3be69" stroke-width="0.9"/>
<polyline points="582.0,189.6 583.0,189.7 584.0,190.2" fill="none" stroke="#e3be69" stroke-width="0.9"/>
<polyline points="584.0,190.2 585.0,190.1 586.0,190.1" fill="none" stroke="#e3be69" stroke-width="0.9"/>
<polyline points="586.0,190.1 587.0,189.2 588.0,189.8 589.0,189.7 590.0,190.2" fill="none" stroke="#e38d69" stroke-width="0.9"/>
<polyline points="594.0,189.6 595.0,189.4 596.0,189.9 597.0,189.4 598.0,189.4" fill="none" stroke="#e38d69" stroke-width="0.9"/>
<polyline points="602.0,189.6 603.0,190.0 604.0,189.0 605.0,190.4" fill="none" stroke="#e38d69" stroke-width="0.9"/>
<polyline points="605.0,190.4 606.0,189.3 607.0,189.8 608.0,189.6" fill="none" stroke="#d7e375" stroke-width="0.9"/>
<polyline points="608.0,189.6 609.0,189.2 610.0,189.6 611.0,189.6" fill="none" stroke="#e3be69" stroke-width="0.9"/>
<polyline points="614.0,189.6 615.0,189.7 616.0,189.1 617.0,189.6 618.0,190.4" fill="none" stroke="#e38d69" stroke-width="0.9"/>
<line x1="409.3" y1="189.6" x2="409.3" y2="160.1" stroke="#ffd87f" stroke-width="1.3"/>
<line x1="415" y1="189.6" x2="415" y2="206.6" stroke="#f27f7f" stroke-width="1.3"/>
<line x1="404" y1="189.6" x2="404" y2="184.6" stroke="#ffa57f" stroke-width="1.1"/>
<line x1="412" y1="189.6" x2="412" y2="192.6" stroke="#8cfff2" stroke-width="1.1"/>
<line x1="449.7" y1="189.6" x2="449.7" y2="139.6" stroke="#bfffbf" stroke-width="1.3"/>
<line x1="447" y1="189.6" x2="447" y2="169.6" stroke="#82fffc" stroke-width="1.1"/>
<line x1="459" y1="189.6" x2="459" y2="234.6" stroke="#82fffc" stroke-width="1.3"/>
<line x1="456" y1="189.6" x2="456" y2="179.6" stroke="#ffbf7f" stroke-width="1.2100000000000002"/>
<line x1="473.2" y1="189.6" x2="473.2" y2="171.6" stroke="#7f7ff2" stroke-width="1.3"/>
<line x1="473.5" y1="189.6" x2="473.5" y2="209.6" stroke="#7f7ffc" stroke-width="1.3"/>
<line x1="483.6" y1="189.6" x2="483.6" y2="139.6" stroke="#7fa5ff" stroke-width="1.3"/>
<line x1="483.6" y1="189.6" x2="483.6" y2="234.6" stroke="#7fafff" stroke-width="1.3"/>
<line x1="466" y1="189.6" x2="466" y2="184.6" stroke="#7f8cff" stroke-width="1.1"/>
<line x1="497" y1="189.6" x2="497" y2="179.6" stroke="#7f7fe8" stroke-width="1.3"/>
<line x1="498.5" y1="189.6" x2="498.5" y2="175.6" stroke="#7f7ffc" stroke-width="1.3"/>
<line x1="501" y1="189.6" x2="501" y2="199.6" stroke="#7fd8ff" stroke-width="1.2100000000000002"/>
<line x1="505" y1="189.6" x2="505" y2="159.6" stroke="#7fbfff" stroke-width="1.3"/>
<line x1="505.5" y1="189.6" x2="505.5" y2="231.6" stroke="#f2ff8c" stroke-width="1.2100000000000002"/>
<line x1="510.8" y1="189.6" x2="510.8" y2="205.6" stroke="#7fd8ff" stroke-width="1.3"/>
<line x1="515.4" y1="189.6" x2="515.4" y2="176.6" stroke="#ffbf7f" stroke-width="1.2100000000000002"/>
<line x1="531" y1="189.6" x2="531" y2="196.6" stroke="#ffce7f" stroke-width="1.2100000000000002"/>
<line x1="525" y1="189.6" x2="525" y2="185.6" stroke="#ff8c7f" stroke-width="1.1"/>
<line x1="595" y1="189.6" x2="595" y2="184.6" stroke="#ff8c7f" stroke-width="1.1"/>
<line x1="600" y1="189.6" x2="600" y2="187.6" stroke="#ffa57f" stroke-width="1.1"/>
<line x1="580" y1="189.6" x2="580" y2="186.6" stroke="#7fd8ff" stroke-width="1.1"/>
<polyline points="185.9,176.2 185.9,188.9 205.0,188.9 205.0,176.2" fill="none" stroke="#1a1a1a" stroke-width="1.4"/>
<polyline points="195.8,188.9 195.8,203.4" fill="none" stroke="#1a1a1a" stroke-width="1.4"/>
<text x="195.8" y="215.5" font-size="13" font-weight="normal" fill="#111" text-anchor="middle" stroke="#111" stroke-width="0.3">20</text>
<text x="252.4" y="201" font-size="13" font-weight="normal" fill="#111" text-anchor="middle" stroke="#111" stroke-width="0.3">20</text>
<polyline points="252.4,175.0 252.4,187.7" fill="none" stroke="#1a1a1a" stroke-width="1.4"/>
<text x="278.6" y="223.5" font-size="13" font-weight="normal" fill="#111" text-anchor="middle" stroke="#111" stroke-width="0.3">11</text>
<polyline points="268.5,200.0 278.5,212.5 287.5,200.0" fill="none" stroke="#1a1a1a" stroke-width="1.4"/>
<polyline points="281.0,193.0 278.5,212.5" fill="none" stroke="#1a1a1a" stroke-width="1.4"/>
<polyline points="279.0,193.0 283.0,193.0" fill="none" stroke="#1a1a1a" stroke-width="1.4"/>
<text x="352.5" y="198" font-size="13" font-weight="normal" fill="#111" text-anchor="middle" stroke="#111" stroke-width="0.3">19</text>
<polyline points="351.3,175.0 351.3,186.0" fill="none" stroke="#1a1a1a" stroke-width="1.4"/>
<text x="410.4" y="153.1" font-size="13" font-weight="normal" fill="#111" text-anchor="middle" stroke="#111" stroke-width="0.3">10</text>
<polyline points="410.4,156.0 410.4,160.0" fill="none" stroke="#1a1a1a" stroke-width="1.4"/>
<text x="395.4" y="219" font-size="13" font-weight="normal" fill="#111" text-anchor="middle" stroke="#111" stroke-width="0.3">20</text>
<polyline points="387.0,197.0 395.0,208.0" fill="none" stroke="#1a1a1a" stroke-width="1.4"/>
<text x="415.6" y="225.8" font-size="13" font-weight="normal" fill="#111" text-anchor="middle" stroke="#111" stroke-width="0.3">11</text>
<polyline points="415.0,208.0 415.0,212.0" fill="none" stroke="#1a1a1a" stroke-width="1.4"/>
<text x="454.2" y="169.3" font-size="13" font-weight="normal" fill="#111" text-anchor="middle" stroke="#111" stroke-width="0.3">13</text>
<polyline points="456.0,171.0 457.5,177.0" fill="none" stroke="#1a1a1a" stroke-width="1.4"/>
<text x="469.2" y="167" font-size="13" font-weight="normal" fill="#111" text-anchor="middle" stroke="#111" stroke-width="0.3">10</text>
<polyline points="472.0,170.0 474.5,176.0" fill="none" stroke="#1a1a1a" stroke-width="1.4"/>
<text x="453.7" y="230.5" font-size="13" font-weight="normal" fill="#111" text-anchor="middle" stroke="#111" stroke-width="0.3">5</text>
<polyline points="456.0,219.0 459.0,213.0" fill="none" stroke="#1a1a1a" stroke-width="1.4"/>
<text x="489" y="210.8" font-size="13" font-weight="normal" fill="#111" text-anchor="middle" stroke="#111" stroke-width="0.3">29</text>
<polyline points="489.5,194.0 489.5,199.0" fill="none" stroke="#1a1a1a" stroke-width="1.4"/>
<polyline points="488.0,194.0 491.0,194.0" fill="none" stroke="#1a1a1a" stroke-width="1.4"/>
<text x="500.4" y="213" font-size="13" font-weight="normal" fill="#111" text-anchor="middle" stroke="#111" stroke-width="0.3">12</text>
<polyline points="500.0,197.0 500.0,202.0" fill="none" stroke="#1a1a1a" stroke-width="1.4"/>
<text x="517.1" y="164.6" font-size="13" font-weight="normal" fill="#111" text-anchor="middle" stroke="#111" stroke-width="0.3">13</text>
<polyline points="517.0,166.0 517.0,172.0" fill="none" stroke="#1a1a1a" stroke-width="1.4"/>
<text x="531" y="224.7" font-size="13" font-weight="normal" fill="#111" text-anchor="middle" stroke="#111" stroke-width="0.3">29</text>
<polyline points="532.0,203.0 532.0,212.0" fill="none" stroke="#1a1a1a" stroke-width="1.4"/>
<text x="557" y="175" font-size="13" font-weight="normal" fill="#111" text-anchor="middle" stroke="#111" stroke-width="0.3">1</text>
<polyline points="557.0,178.0 557.0,185.0" fill="none" stroke="#1a1a1a" stroke-width="1.4"/>
<text x="594.5" y="173.9" font-size="13" font-weight="normal" fill="#111" text-anchor="middle" stroke="#111" stroke-width="0.3">2/1</text>
<polyline points="595.0,176.0 595.0,181.0" fill="none" stroke="#1a1a1a" stroke-width="1.4"/>
<polyline points="592.0,181.0 598.0,181.0" fill="none" stroke="#1a1a1a" stroke-width="1.4"/>
<text x="609" y="175" font-size="13" font-weight="normal" fill="#111" text-anchor="middle" stroke="#111" stroke-width="0.3">1</text>
<polyline points="609.0,178.0 609.0,185.0" fill="none" stroke="#1a1a1a" stroke-width="1.4"/>
<polyline points="137.0,304.3 138.0,304.3 139.0,304.2" fill="none" stroke="#a6e3a6" stroke-width="0.9"/>
<polyline points="142.0,304.3 143.0,304.1 144.0,304.3 145.0,304.3" fill="none" stroke="#bee38d" stroke-width="0.9"/>
<polyline points="145.0,304.3 146.0,304.8 147.0,304.5 148.0,304.4 149.0,304.5" fill="none" stroke="#d7e375" stroke-width="0.9"/>
<polyline points="149.0,304.5 150.0,303.8 151.0,304.1 152.0,304.1" fill="none" stroke="#d7e375" stroke-width="0.9"/>
<polyline points="161.0,304.3 162.0,304.2 163.0,304.0" fill="none" stroke="#bee38d" stroke-width="0.9"/>
<polyline points="163.0,304.0 164.0,304.3 165.0,304.4 166.0,304.3 167.0,304.5" fill="none" stroke="#bee38d" stroke-width="0.9"/>
<polyline points="167.0,304.5 168.0,304.4 169.0,304.4 170.0,304.5 171.0,304.4" fill="none" stroke="#bee38d" stroke-width="0.9"/>
<polyline points="172.0,304.3 173.0,304.1 174.0,303.9" fill="none" stroke="#a6e3a6" stroke-width="0.9"/>
<polyline points="174.0,303.9 175.0,304.3 176.0,303.7 177.0,304.2" fill="none" stroke="#a6e3a6" stroke-width="0.9"/>
<polyline points="177.0,304.2 178.0,304.3 179.0,304.1 180.0,304.0 181.0,304.3" fill="none" stroke="#8de3be" stroke-width="0.9"/>
<polyline points="185.0,304.3 186.0,304.0 187.0,304.7" fill="none" stroke="#d7e375" stroke-width="0.9"/>
<polyline points="187.0,304.7 188.0,303.6 189.0,304.0" fill="none" stroke="#8de3be" stroke-width="0.9"/>
<polyline points="189.0,304.0 190.0,304.4 191.0,304.9 192.0,304.4" fill="none" stroke="#8de3be" stroke-width="0.9"/>
<polyline points="192.0,304.4 193.0,303.9 194.0,304.4 195.0,303.9" fill="none" stroke="#d7e375" stroke-width="0.9"/>
<polyline points="195.0,303.9 196.0,304.4 197.0,305.4" fill="none" stroke="#a6e3a6" stroke-width="0.9"/>
<polyline points="200.0,304.3 201.0,299.3 202.0,302.8 203.0,302.1 204.0,305.9" fill="none" stroke="#e7bf62" stroke-width="0.9"/>
<polyline points="204.0,305.9 205.0,303.5 206.0,303.7 207.0,304.9 208.0,302.4" fill="none" stroke="#d9e76f" stroke-width="0.9"/>
<polyline points="208.0,302.4 209.0,305.8 210.0,305.4" fill="none" stroke="#e7a462" stroke-width="0.9"/>
<polyline points="210.0,305.4 211.0,306.2 212.0,304.4 213.0,303.6 214.0,304.0" fill="none" stroke="#e7a462" stroke-width="0.9"/>
<polyline points="214.0,304.0 215.0,304.4 216.0,305.5" fill="none" stroke="#d9e76f" stroke-width="0.9"/>
<polyline points="216.0,305.5 217.0,305.3 218.0,303.7" fill="none" stroke="#d9e76f" stroke-width="0.9"/>
<polyline points="218.0,303.7 219.0,306.0 220.0,303.6" fill="none" stroke="#d9e76f" stroke-width="0.9"/>
<polyline points="220.0,303.6 221.0,304.0 222.0,303.6 223.0,306.8" fill="none" stroke="#e7bf62" stroke-width="0.9"/>
<polyline points="223.0,306.8 224.0,299.9 225.0,305.3 226.0,303.5 227.0,303.8" fill="none" stroke="#d9e76f" stroke-width="0.9"/>
<polyline points="227.0,303.8 228.0,306.4 229.0,306.7 230.0,305.0 231.0,302.6" fill="none" stroke="#e7bf62" stroke-width="0.9"/>
<polyline points="231.0,302.6 232.0,302.6 233.0,305.4 234.0,306.8" fill="none" stroke="#e78962" stroke-width="0.9"/>
<polyline points="232.0,304.3 233.0,302.4 234.0,304.5" fill="none" stroke="#6262d9" stroke-width="0.9"/>
<polyline points="234.0,304.5 235.0,306.0 236.0,305.0 237.0,305.3 238.0,304.8" fill="none" stroke="#626fe7" stroke-width="0.9"/>
<polyline points="238.0,304.8 239.0,304.4 240.0,303.7" fill="none" stroke="#6262d9" stroke-width="0.9"/>
<polyline points="240.0,303.7 241.0,304.8 242.0,302.9 243.0,304.0" fill="none" stroke="#626fe7" stroke-width="0.9"/>
<polyline points="243.0,304.0 244.0,304.8 245.0,303.9 246.0,305.5" fill="none" stroke="#6262d9" stroke-width="0.9"/>
<polyline points="246.0,305.5 247.0,304.2 248.0,303.7" fill="none" stroke="#6289e7" stroke-width="0.9"/>
<polyline points="248.0,304.3 249.0,304.9 250.0,304.4 251.0,304.8" fill="none" stroke="#e7a462" stroke-width="0.9"/>
<polyline points="251.0,304.8 252.0,303.5 253.0,305.3 254.0,303.9 255.0,304.4" fill="none" stroke="#e78962" stroke-width="0.9"/>
<polyline points="255.0,304.4 256.0,304.9 257.0,305.3" fill="none" stroke="#e7a462" stroke-width="0.9"/>
<polyline points="257.0,305.3 258.0,305.1 259.0,302.7 260.0,304.2 261.0,304.0" fill="none" stroke="#e7a462" stroke-width="0.9"/>
<polyline points="261.0,304.0 262.0,305.7 263.0,303.9 264.0,302.4 265.0,304.0" fill="none" stroke="#e7a462" stroke-width="0.9"/>
<polyline points="265.0,304.3 266.0,303.6 267.0,303.8 268.0,303.7 269.0,302.7" fill="none" stroke="#d9e76f" stroke-width="0.9"/>
<polyline points="269.0,302.7 270.0,307.0 271.0,303.7 272.0,305.0" fill="none" stroke="#e78962" stroke-width="0.9"/>
<polyline points="272.0,305.0 273.0,303.3 274.0,303.5" fill="none" stroke="#e78962" stroke-width="0.9"/>
<polyline points="274.0,303.5 275.0,306.2 276.0,305.1 277.0,304.6" fill="none" stroke="#e7bf62" stroke-width="0.9"/>
<polyline points="277.0,304.6 278.0,305.8 279.0,300.3 280.0,303.3" fill="none" stroke="#d9e76f" stroke-width="0.9"/>
<polyline points="280.0,303.3 281.0,302.9 282.0,303.6 283.0,303.9" fill="none" stroke="#e7bf62" stroke-width="0.9"/>
<polyline points="283.0,303.9 284.0,305.1 285.0,302.9 286.0,302.9" fill="none" stroke="#e7bf62" stroke-width="0.9"/>
<polyline points="286.0,302.9 287.0,307.3 288.0,307.2 289.0,305.4" fill="none" stroke="#d9e76f" stroke-width="0.9"/>
<polyline points="289.0,305.4 290.0,302.7 291.0,302.7 292.0,306.6 293.0,303.2" fill="none" stroke="#d9e76f" stroke-width="0.9"/>
<polyline points="293.0,303.2 294.0,304.1 295.0,304.2 296.0,304.1" fill="none" stroke="#e78962" stroke-width="0.9"/>
<polyline points="296.0,304.1 297.0,302.4 298.0,304.7" fill="none" stroke="#e78962" stroke-width="0.9"/>
<polyline points="298.0,304.7 299.0,305.0 300.0,302.9 301.0,305.7" fill="none" stroke="#e7bf62" stroke-width="0.9"/>
<polyline points="300.0,304.3 301.0,301.2 302.0,305.4" fill="none" stroke="#62bfe7" stroke-width="0.9"/>
<polyline points="302.0,305.4 303.0,306.3 304.0,300.9" fill="none" stroke="#626fe7" stroke-width="0.9"/>
<polyline points="304.0,300.9 305.0,303.8 306.0,302.8" fill="none" stroke="#62bfe7" stroke-width="0.9"/>
<polyline points="306.0,302.8 307.0,305.2 308.0,303.8" fill="none" stroke="#626fe7" stroke-width="0.9"/>
<polyline points="308.0,303.8 309.0,301.4 310.0,303.6 311.0,306.6" fill="none" stroke="#626fe7" stroke-width="0.9"/>
<polyline points="311.0,306.6 312.0,306.5 313.0,305.9 314.0,304.6 315.0,302.6" fill="none" stroke="#626fe7" stroke-width="0.9"/>
<polyline points="315.0,302.6 316.0,305.9 317.0,301.7 318.0,305.4 319.0,302.5" fill="none" stroke="#62bfe7" stroke-width="0.9"/>
<polyline points="319.0,302.5 320.0,304.2 321.0,304.5 322.0,302.9" fill="none" stroke="#6262d9" stroke-width="0.9"/>
<polyline points="322.0,304.3 323.0,305.2 324.0,302.4 325.0,302.4" fill="none" stroke="#e76f62" stroke-width="0.9"/>
<polyline points="325.0,302.4 326.0,306.1 327.0,302.5 328.0,304.9 329.0,301.9" fill="none" stroke="#e7bf62" stroke-width="0.9"/>
<polyline points="329.0,301.9 330.0,304.9 331.0,303.9 332.0,302.9 333.0,305.7" fill="none" stroke="#e76f62" stroke-width="0.9"/>
<polyline points="333.0,305.7 334.0,305.2 335.0,303.4 336.0,305.5" fill="none" stroke="#e7bf62" stroke-width="0.9"/>
<polyline points="336.0,305.5 337.0,306.6 338.0,303.1 339.0,304.3" fill="none" stroke="#e7bf62" stroke-width="0.9"/>
<polyline points="339.0,304.3 340.0,305.4 341.0,304.7 342.0,304.0 343.0,304.9" fill="none" stroke="#e76f62" stroke-width="0.9"/>
<polyline points="343.0,304.9 344.0,305.6 345.0,303.8 346.0,304.8 347.0,305.1" fill="none" stroke="#e76f62" stroke-width="0.9"/>
<polyline points="345.0,304.3 346.0,304.7 347.0,304.1 348.0,304.3" fill="none" stroke="#698de3" stroke-width="0.9"/>
<polyline points="348.0,304.3 349.0,304.0 350.0,304.2 351.0,304.8" fill="none" stroke="#698de3" stroke-width="0.9"/>
<polyline points="351.0,304.8 352.0,305.0 353.0,304.3" fill="none" stroke="#69bee3" stroke-width="0.9"/>
<polyline points="353.0,304.3 354.0,304.5 355.0,304.7 356.0,304.7" fill="none" stroke="#698de3" stroke-width="0.9"/>
<polyline points="356.0,304.7 357.0,303.7 358.0,304.9 359.0,304.2" fill="none" stroke="#69bee3" stroke-width="0.9"/>
<polyline points="365.0,304.3 366.0,304.2 367.0,304.2" fill="none" stroke="#698de3" stroke-width="0.9"/>
<polyline points="370.0,304.3 371.0,303.8 372.0,304.1" fill="none" stroke="#69bee3" stroke-width="0.9"/>
<polyline points="372.0,304.1 373.0,304.2 374.0,304.6 375.0,304.4" fill="none" stroke="#698de3" stroke-width="0.9"/>
<line x1="175" y1="304.3" x2="175" y2="293.3" stroke="#96ffe8" stroke-width="1.1"/>
<line x1="176" y1="304.3" x2="176" y2="308.3" stroke="#d8ffa5" stroke-width="1.1"/>
<line x1="185" y1="304.3" x2="185" y2="310.3" stroke="#a5ffd8" stroke-width="1.1"/>
<line x1="185.5" y1="304.3" x2="185.5" y2="300.3" stroke="#bfffbf" stroke-width="1.1"/>
<line x1="194.7" y1="304.3" x2="194.7" y2="296.3" stroke="#bfffbf" stroke-width="1.1"/>
<line x1="197" y1="304.3" x2="197" y2="298.3" stroke="#d8ffa5" stroke-width="1.1"/>
<line x1="200" y1="304.3" x2="200" y2="300.3" stroke="#f2ff8c" stroke-width="1.1"/>
<line x1="210" y1="304.3" x2="210" y2="308.3" stroke="#ffa57f" stroke-width="1.1"/>
<line x1="222" y1="304.3" x2="222" y2="308.3" stroke="#ffaf7f" stroke-width="1.1"/>
<line x1="244.3" y1="304.3" x2="244.3" y2="300.3" stroke="#ffd87f" stroke-width="1.1"/>
<line x1="250" y1="304.3" x2="250" y2="315.3" stroke="#ff8c7f" stroke-width="1.1"/>
<line x1="253" y1="304.3" x2="253" y2="310.3" stroke="#ffd87f" stroke-width="1.1"/>
<line x1="267.3" y1="304.3" x2="267.3" y2="366.3" stroke="#f27f7f" stroke-width="1.3"/>
<line x1="276.6" y1="304.3" x2="276.6" y2="272.3" stroke="#fcff82" stroke-width="1.3"/>
<line x1="280" y1="304.3" x2="280" y2="330.3" stroke="#ff8c7f" stroke-width="1.2100000000000002"/>
<line x1="285" y1="304.3" x2="285" y2="365.3" stroke="#f27f7f" stroke-width="1.3"/>
<line x1="289" y1="304.3" x2="289" y2="326.3" stroke="#ffa57f" stroke-width="1.1"/>
<line x1="293" y1="304.3" x2="293" y2="334.3" stroke="#ffce7f" stroke-width="1.1"/>
<line x1="297" y1="304.3" x2="297" y2="322.3" stroke="#f2ff8c" stroke-width="1.1"/>
<line x1="298.5" y1="304.3" x2="298.5" y2="352.3" stroke="#bfffbf" stroke-width="1.1"/>
<line x1="301" y1="304.3" x2="301" y2="330.3" stroke="#d8ffa5" stroke-width="1.1"/>
<line x1="304" y1="304.3" x2="304" y2="344.3" stroke="#fcff82" stroke-width="1.1"/>
<line x1="306" y1="304.3" x2="306" y2="326.3" stroke="#ffbf7f" stroke-width="1.1"/>
<line x1="309" y1="304.3" x2="309" y2="334.3" stroke="#ffe27f" stroke-width="1.1"/>
<line x1="313" y1="304.3" x2="313" y2="322.3" stroke="#f2ff8c" stroke-width="1.1"/>
<line x1="316" y1="304.3" x2="316" y2="316.3" stroke="#a5ffd8" stroke-width="1.1"/>
<line x1="300" y1="304.3" x2="300" y2="298.3" stroke="#7f7ffc" stroke-width="1.1"/>
<line x1="304" y1="304.3" x2="304" y2="299.3" stroke="#7fa5ff" stroke-width="1.1"/>
<line x1="312" y1="304.3" x2="312" y2="298.3" stroke="#7f7ff2" stroke-width="1.1"/>
<line x1="316" y1="304.3" x2="316" y2="297.3" stroke="#7f9bff" stroke-width="1.1"/>
<line x1="336" y1="304.3" x2="336" y2="316.3" stroke="#ff8c7f" stroke-width="1.1"/>
<line x1="339" y1="304.3" x2="339" y2="312.3" stroke="#ff9b7f" stroke-width="1.1"/>
<line x1="328" y1="304.3" x2="328" y2="310.3" stroke="#ffbf7f" stroke-width="1.1"/>
<polyline points="382.0,328.7 383.0,329.2 384.0,328.8 385.0,328.6" fill="none" stroke="#69bee3" stroke-width="0.9"/>
<polyline points="385.0,328.6 386.0,328.7 387.0,328.7" fill="none" stroke="#6975e3" stroke-width="0.9"/>
<polyline points="387.0,328.7 388.0,329.0 389.0,328.7 390.0,328.8" fill="none" stroke="#6975e3" stroke-width="0.9"/>
<polyline points="390.0,328.8 391.0,328.6 392.0,329.1 393.0,328.8" fill="none" stroke="#69bee3" stroke-width="0.9"/>
<polyline points="398.0,328.7 399.0,328.6 400.0,329.1 401.0,328.9" fill="none" stroke="#69bee3" stroke-width="0.9"/>
<polyline points="401.0,328.9 402.0,328.9 403.0,328.9" fill="none" stroke="#69bee3" stroke-width="0.9"/>
<polyline points="403.0,328.9 404.0,329.6 405.0,328.3 406.0,329.5" fill="none" stroke="#6975e3" stroke-width="0.9"/>
<polyline points="405.0,328.7 406.0,328.0 407.0,329.6 408.0,325.6 409.0,326.9" fill="none" stroke="#62bfe7" stroke-width="0.9"/>
<polyline points="409.0,326.9 410.0,327.8 411.0,329.7 412.0,329.3" fill="none" stroke="#626fe7" stroke-width="0.9"/>
<polyline points="412.0,329.3 413.0,330.2 414.0,330.0" fill="none" stroke="#626fe7" stroke-width="0.9"/>
<polyline points="414.0,330.0 415.0,330.5 416.0,329.1 417.0,328.3 418.0,327.6" fill="none" stroke="#626fe7" stroke-width="0.9"/>
<polyline points="418.0,327.6 419.0,327.0 420.0,330.5" fill="none" stroke="#6289e7" stroke-width="0.9"/>
<polyline points="420.0,330.5 421.0,329.2 422.0,327.8 423.0,328.2 424.0,329.5" fill="none" stroke="#626fe7" stroke-width="0.9"/>
<polyline points="424.0,329.5 425.0,328.6 426.0,330.0 427.0,327.8" fill="none" stroke="#62bfe7" stroke-width="0.9"/>
<polyline points="427.0,327.8 428.0,328.6 429.0,327.4 430.0,326.9 431.0,328.1" fill="none" stroke="#6289e7" stroke-width="0.9"/>
<polyline points="431.0,328.1 432.0,329.0 433.0,328.1 434.0,328.9" fill="none" stroke="#62bfe7" stroke-width="0.9"/>
<polyline points="434.0,328.9 435.0,328.8 436.0,330.1 437.0,328.6" fill="none" stroke="#62bfe7" stroke-width="0.9"/>
<polyline points="437.0,328.6 438.0,329.9 439.0,329.0" fill="none" stroke="#62bfe7" stroke-width="0.9"/>
<polyline points="439.0,329.0 440.0,329.3 441.0,328.7 442.0,328.1" fill="none" stroke="#626fe7" stroke-width="0.9"/>
<polyline points="442.0,328.1 443.0,328.3 444.0,328.6 445.0,328.8" fill="none" stroke="#6289e7" stroke-width="0.9"/>
<polyline points="445.0,328.8 446.0,328.0 447.0,326.2" fill="none" stroke="#62bfe7" stroke-width="0.9"/>
<polyline points="447.0,326.2 448.0,330.2 449.0,329.0 450.0,328.9" fill="none" stroke="#6fe7d9" stroke-width="0.9"/>
<polyline points="454.0,328.7 455.0,328.8 456.0,328.7" fill="none" stroke="#d7e375" stroke-width="0.9"/>
<polyline points="456.0,328.7 457.0,328.9 458.0,328.9 459.0,329.5" fill="none" stroke="#bee38d" stroke-width="0.9"/>
<polyline points="459.0,329.5 460.0,327.9 461.0,328.9 462.0,328.6" fill="none" stroke="#69bee3" stroke-width="0.9"/>
<polyline points="462.0,328.6 463.0,328.8 464.0,329.4 465.0,328.8" fill="none" stroke="#d7e375" stroke-width="0.9"/>
<polyline points="468.0,328.7 469.0,329.4 470.0,328.6" fill="none" stroke="#69bee3" stroke-width="0.9"/>
<polyline points="470.0,328.6 471.0,328.4 472.0,329.2 473.0,328.6" fill="none" stroke="#d7e375" stroke-width="0.9"/>
<polyline points="476.0,328.7 477.0,329.8 478.0,328.1" fill="none" stroke="#8de3be" stroke-width="0.9"/>
<polyline points="478.0,328.1 479.0,329.3 480.0,328.6 481.0,329.1" fill="none" stroke="#d7e375" stroke-width="0.9"/>
<polyline points="481.0,329.1 482.0,329.0 483.0,328.0 484.0,328.2" fill="none" stroke="#8de3be" stroke-width="0.9"/>
<polyline points="484.0,328.2 485.0,329.9 486.0,328.3 487.0,329.5" fill="none" stroke="#69bee3" stroke-width="0.9"/>
<polyline points="487.0,329.5 488.0,328.8 489.0,328.8 490.0,328.9" fill="none" stroke="#8de3be" stroke-width="0.9"/>
<polyline points="490.0,328.7 491.0,329.9 492.0,328.9" fill="none" stroke="#a4e7a4" stroke-width="0.9"/>
<polyline points="492.0,328.9 493.0,328.0 494.0,328.9" fill="none" stroke="#62bfe7" stroke-width="0.9"/>
<polyline points="494.0,328.9 495.0,328.6 496.0,329.0 497.0,328.6" fill="none" stroke="#a4e7a4" stroke-width="0.9"/>
<polyline points="497.0,328.6 498.0,330.4 499.0,328.7 500.0,330.7 501.0,329.0" fill="none" stroke="#e7d962" stroke-width="0.9"/>
<polyline points="501.0,329.0 502.0,329.3 503.0,327.3 504.0,329.4 505.0,328.6" fill="none" stroke="#a4e7a4" stroke-width="0.9"/>
<polyline points="505.0,328.6 506.0,331.6 507.0,328.0 508.0,327.2" fill="none" stroke="#e7d962" stroke-width="0.9"/>
<polyline points="508.0,327.2 509.0,327.2 510.0,329.0 511.0,330.5" fill="none" stroke="#e7d962" stroke-width="0.9"/>
<polyline points="511.0,330.5 512.0,327.7 513.0,328.8 514.0,330.3" fill="none" stroke="#62bfe7" stroke-width="0.9"/>
<polyline points="514.0,330.3 515.0,328.6 516.0,329.2 517.0,328.3" fill="none" stroke="#e7d962" stroke-width="0.9"/>
<polyline points="515.0,328.7 516.0,328.3 517.0,327.8" fill="none" stroke="#69bee3" stroke-width="0.9"/>
<polyline points="517.0,327.8 518.0,328.7 519.0,328.5" fill="none" stroke="#69bee3" stroke-width="0.9"/>
<polyline points="519.0,328.5 520.0,328.3 521.0,329.1" fill="none" stroke="#e38d69" stroke-width="0.9"/>
<polyline points="523.0,328.7 524.0,329.1 525.0,328.8" fill="none" stroke="#e37569" stroke-width="0.9"/>
<polyline points="525.0,328.8 526.0,329.5 527.0,329.1 528.0,328.4" fill="none" stroke="#e3be69" stroke-width="0.9"/>
<polyline points="533.0,328.7 534.0,328.3 535.0,328.4 536.0,328.0" fill="none" stroke="#e37569" stroke-width="0.9"/>
<polyline points="536.0,328.0 537.0,329.1 538.0,329.0 539.0,328.7" fill="none" stroke="#e37569" stroke-width="0.9"/>
<polyline points="539.0,328.7 540.0,328.6 541.0,328.8 542.0,328.1 543.0,329.5" fill="none" stroke="#e3be69" stroke-width="0.9"/>
<polyline points="543.0,329.5 544.0,328.2 545.0,329.6 546.0,329.5" fill="none" stroke="#e37569" stroke-width="0.9"/>
<polyline points="546.0,329.5 547.0,329.0 548.0,329.3 549.0,328.8" fill="none" stroke="#e38d69" stroke-width="0.9"/>
<polyline points="549.0,328.8 550.0,327.5 551.0,328.3" fill="none" stroke="#e3be69" stroke-width="0.9"/>
<polyline points="551.0,328.3 552.0,328.9 553.0,329.3 554.0,328.5" fill="none" stroke="#69bee3" stroke-width="0.9"/>
<polyline points="557.0,328.7 558.0,328.7 559.0,328.5" fill="none" stroke="#e37569" stroke-width="0.9"/>
<polyline points="559.0,328.5 560.0,328.2 561.0,329.0 562.0,328.8" fill="none" stroke="#e3be69" stroke-width="0.9"/>
<polyline points="562.0,328.8 563.0,328.6 564.0,328.8 565.0,329.2" fill="none" stroke="#e37569" stroke-width="0.9"/>
<polyline points="565.0,329.2 566.0,328.8 567.0,328.8 568.0,328.3 569.0,328.6" fill="none" stroke="#e3be69" stroke-width="0.9"/>
<polyline points="569.0,328.6 570.0,329.2 571.0,329.0" fill="none" stroke="#e38d69" stroke-width="0.9"/>
<polyline points="574.0,328.7 575.0,328.4 576.0,328.9 577.0,329.0" fill="none" stroke="#69bee3" stroke-width="0.9"/>
<polyline points="577.0,329.0 578.0,328.6 579.0,328.4 580.0,328.9" fill="none" stroke="#e3be69" stroke-width="0.9"/>
<polyline points="580.0,328.9 581.0,328.3 582.0,328.9" fill="none" stroke="#e37569" stroke-width="0.9"/>
<polyline points="585.0,328.7 586.0,329.1 587.0,329.5 588.0,328.8" fill="none" stroke="#69bee3" stroke-width="0.9"/>
<polyline points="588.0,328.8 589.0,328.2 590.0,328.6" fill="none" stroke="#698de3" stroke-width="0.9"/>
<polyline points="594.0,328.7 595.0,328.5 596.0,328.6 597.0,328.3 598.0,329.0" fill="none" stroke="#75e3d7" stroke-width="0.9"/>
<polyline points="598.0,329.0 599.0,329.0 600.0,328.3 601.0,329.0" fill="none" stroke="#75e3d7" stroke-width="0.9"/>
<polyline points="601.0,329.0 602.0,329.2 603.0,328.9 604.0,328.8 605.0,328.8" fill="none" stroke="#698de3" stroke-width="0.9"/>
<polyline points="605.0,328.8 606.0,329.0 607.0,328.9 608.0,328.5 609.0,328.7" fill="none" stroke="#75e3d7" stroke-width="0.9"/>
<polyline points="609.0,328.7 610.0,329.4 611.0,328.6 612.0,329.1 613.0,328.5" fill="none" stroke="#698de3" stroke-width="0.9"/>
<polyline points="613.0,328.5 614.0,329.0 615.0,328.2 616.0,328.2" fill="none" stroke="#698de3" stroke-width="0.9"/>
<line x1="417.3" y1="328.7" x2="417.3" y2="272.7" stroke="#ffa57f" stroke-width="1.3"/>
<line x1="416.5" y1="328.7" x2="416.5" y2="335.7" stroke="#fc7f7f" stroke-width="1.3"/>
<line x1="408" y1="328.7" x2="408" y2="318.7" stroke="#fcff82" stroke-width="1.1"/>
<line x1="409" y1="328.7" x2="409" y2="343.7" stroke="#fcff82" stroke-width="1.1"/>
<line x1="402" y1="328.7" x2="402" y2="324.7" stroke="#ffa57f" stroke-width="1.1"/>
<line x1="449.7" y1="328.7" x2="449.7" y2="272.7" stroke="#a5ffd8" stroke-width="1.3"/>
<line x1="449.5" y1="328.7" x2="449.5" y2="345.7" stroke="#7f7ffc" stroke-width="1.3"/>
<line x1="459" y1="328.7" x2="459" y2="272.7" stroke="#d8ffa5" stroke-width="1.3"/>
<line x1="459" y1="328.7" x2="459" y2="369.7" stroke="#c9ffb5" stroke-width="1.3"/>
<line x1="474" y1="328.7" x2="474" y2="272.7" stroke="#ffd87f" stroke-width="1.3"/>
<line x1="474.2" y1="328.7" x2="474.2" y2="345.7" stroke="#fcff82" stroke-width="1.3"/>
<line x1="483.6" y1="328.7" x2="483.6" y2="316.7" stroke="#7ff2ff" stroke-width="1.3"/>
<line x1="483.6" y1="328.7" x2="483.6" y2="352.7" stroke="#7fe2ff" stroke-width="1.3"/>
<line x1="468" y1="328.7" x2="468" y2="320.7" stroke="#ff8c7f" stroke-width="1.1"/>
<line x1="456" y1="328.7" x2="456" y2="324.7" stroke="#ffbf7f" stroke-width="1.1"/>
<line x1="498" y1="328.7" x2="498" y2="310.7" stroke="#bfffbf" stroke-width="1.3"/>
<line x1="494" y1="328.7" x2="494" y2="343.7" stroke="#ffd87f" stroke-width="1.2100000000000002"/>
<line x1="500" y1="328.7" x2="500" y2="318.7" stroke="#7fa5ff" stroke-width="1.2100000000000002"/>
<line x1="502" y1="328.7" x2="502" y2="342.7" stroke="#7fbfff" stroke-width="1.2100000000000002"/>
<line x1="504.3" y1="328.7" x2="504.3" y2="348.7" stroke="#fff27f" stroke-width="1.2100000000000002"/>
<line x1="510.8" y1="328.7" x2="510.8" y2="338.7" stroke="#7ff2ff" stroke-width="1.2100000000000002"/>
<line x1="516" y1="328.7" x2="516" y2="322.7" stroke="#ffd87f" stroke-width="1.1"/>
<line x1="590.5" y1="328.7" x2="590.5" y2="321.7" stroke="#7fbfff" stroke-width="1.3"/>
<line x1="593.5" y1="328.7" x2="593.5" y2="317.2" stroke="#7ff2ff" stroke-width="1.3"/>
<line x1="583" y1="328.7" x2="583" y2="332.7" stroke="#ff9b7f" stroke-width="1.1"/>
<line x1="578" y1="328.7" x2="578" y2="324.7" stroke="#bfffbf" stroke-width="1.1"/>
<text x="183.8" y="283.1" font-size="13" font-weight="normal" fill="#111" text-anchor="middle" stroke="#111" stroke-width="0.3">17</text>
<polyline points="175.0,293.5 175.0,287.3 197.4,287.3 197.4,291.2" fill="none" stroke="#1a1a1a" stroke-width="1.4"/>
<polyline points="194.7,295.8 194.7,291.2 200.0,291.2 200.0,295.8" fill="none" stroke="#1a1a1a" stroke-width="1.4"/>
<polyline points="183.1,283.8 183.1,287.3" fill="none" stroke="#1a1a1a" stroke-width="1.4"/>
<polyline points="185.4,311.3 185.4,324.2 204.4,324.2 204.4,311.3" fill="none" stroke="#1a1a1a" stroke-width="1.4"/>
<polyline points="195.1,324.2 195.1,338.5" fill="none" stroke="#1a1a1a" stroke-width="1.4"/>
<text x="194" y="350" font-size="13" font-weight="normal" fill="#111" text-anchor="middle" stroke="#111" stroke-width="0.3">20</text>
<text x="245.1" y="289.6" font-size="13" font-weight="normal" fill="#111" text-anchor="middle" stroke="#111" stroke-width="0.3">17</text>
<polyline points="244.3,293.0 244.3,297.0" fill="none" stroke="#1a1a1a" stroke-width="1.4"/>
<text x="250.1" y="344.3" font-size="13" font-weight="normal" fill="#111" text-anchor="middle" stroke="#111" stroke-width="0.3">20</text>
<polyline points="250.5,319.6 250.5,332.0" fill="none" stroke="#1a1a1a" stroke-width="1.4"/>
<text x="305.4" y="352.4" font-size="13" font-weight="normal" fill="#111" text-anchor="middle" stroke="#111" stroke-width="0.3">18</text>
<polyline points="274.5,322.0 303.0,340.0" fill="none" stroke="#1a1a1a" stroke-width="1.4"/>
<text x="277.7" y="361.6" font-size="13" font-weight="normal" fill="#111" text-anchor="middle" stroke="#111" stroke-width="0.3">11</text>
<polyline points="267.5,338.5 277.5,350.5 286.5,338.5" fill="none" stroke="#1a1a1a" stroke-width="1.4"/>
<polyline points="280.0,331.0 277.5,350.5" fill="none" stroke="#1a1a1a" stroke-width="1.4"/>
<polyline points="278.0,331.0 282.0,331.0" fill="none" stroke="#1a1a1a" stroke-width="1.4"/>
<text x="347" y="339.7" font-size="13" font-weight="normal" fill="#111" text-anchor="middle" stroke="#111" stroke-width="0.3">19</text>
<polyline points="345.2,317.3 345.2,328.8" fill="none" stroke="#1a1a1a" stroke-width="1.4"/>
<text x="424.3" y="298.1" font-size="13" font-weight="normal" fill="#111" text-anchor="middle" stroke="#111" stroke-width="0.3">9</text>
<polyline points="418.5,304.0 424.0,299.0" fill="none" stroke="#1a1a1a" stroke-width="1.4"/>
<text x="454.9" y="285.9" font-size="13" font-weight="normal" fill="#111" text-anchor="middle" stroke="#111" stroke-width="0.3">7</text>
<polyline points="449.5,294.5 454.5,288.5 460.0,294.5" fill="none" stroke="#1a1a1a" stroke-width="1.4"/>
<text x="479.5" y="286.5" font-size="13" font-weight="normal" fill="#111" text-anchor="middle" stroke="#111" stroke-width="0.3">9</text>
<polyline points="476.0,298.0 478.0,290.0" fill="none" stroke="#1a1a1a" stroke-width="1.4"/>
<text x="454.8" y="312" font-size="13" font-weight="normal" fill="#111" text-anchor="middle" stroke="#111" stroke-width="0.3">13</text>
<polyline points="456.0,313.0 458.0,321.0" fill="none" stroke="#1a1a1a" stroke-width="1.4"/>
<text x="479.8" y="312" font-size="13" font-weight="normal" fill="#111" text-anchor="middle" stroke="#111" stroke-width="0.3">16</text>
<polyline points="481.0,314.0 481.0,320.0" fill="none" stroke="#1a1a1a" stroke-width="1.4"/>
<text x="394.5" y="354.7" font-size="13" font-weight="normal" fill="#111" text-anchor="middle" stroke="#111" stroke-width="0.3">20</text>
<polyline points="386.0,334.0 395.0,345.0" fill="none" stroke="#1a1a1a" stroke-width="1.4"/>
<text x="416.5" y="353.5" font-size="13" font-weight="normal" fill="#111" text-anchor="middle" stroke="#111" stroke-width="0.3">11</text>
<polyline points="415.5,336.0 415.5,342.0" fill="none" stroke="#1a1a1a" stroke-width="1.4"/>
<text x="410.4" y="366.2" font-size="13" font-weight="normal" fill="#111" text-anchor="middle" stroke="#111" stroke-width="0.3">10</text>
<polyline points="409.0,349.0 409.0,355.0" fill="none" stroke="#1a1a1a" stroke-width="1.4"/>
<text x="453.7" y="367.4" font-size="13" font-weight="normal" fill="#111" text-anchor="middle" stroke="#111" stroke-width="0.3">5</text>
<polyline points="455.0,356.0 459.0,350.0" fill="none" stroke="#1a1a1a" stroke-width="1.4"/>
<text x="515.6" y="308.2" font-size="13" font-weight="normal" fill="#111" text-anchor="middle" stroke="#111" stroke-width="0.3">13</text>
<polyline points="516.2,309.2 516.2,321.5" fill="none" stroke="#1a1a1a" stroke-width="1.4"/>
<text x="512.5" y="358.5" font-size="13" font-weight="normal" fill="#111" text-anchor="middle" stroke="#111" stroke-width="0.3">4</text>
<polyline points="513.0,340.8 513.0,349.2" fill="none" stroke="#1a1a1a" stroke-width="1.4"/>
<text x="501.9" y="367" font-size="13" font-weight="normal" fill="#111" text-anchor="middle" stroke="#111" stroke-width="0.3">8</text>
<polyline points="492.3,348.0 496.5,348.0 501.0,355.0 505.4,349.0" fill="none" stroke="#1a1a1a" stroke-width="1.4"/>
<polyline points="140.0,435.1 141.0,435.0 142.0,435.2 143.0,435.0" fill="none" stroke="#6975e3" stroke-width="0.9"/>
<polyline points="143.0,435.0 144.0,435.1 145.0,435.0 146.0,435.0" fill="none" stroke="#698de3" stroke-width="0.9"/>
<polyline points="146.0,435.0 147.0,435.0 148.0,434.9 149.0,434.8 150.0,435.1" fill="none" stroke="#698de3" stroke-width="0.9"/>
<polyline points="150.0,435.1 151.0,435.1 152.0,435.0" fill="none" stroke="#698de3" stroke-width="0.9"/>
<polyline points="152.0,435.0 153.0,434.9 154.0,435.2 155.0,435.1 156.0,435.4" fill="none" stroke="#698de3" stroke-width="0.9"/>
<polyline points="156.0,435.4 157.0,434.9 158.0,435.0 159.0,435.2" fill="none" stroke="#6969e0" stroke-width="0.9"/>
<polyline points="159.0,435.2 160.0,435.0 161.0,435.1 162.0,435.3 163.0,435.2" fill="none" stroke="#6969e0" stroke-width="0.9"/>
<polyline points="163.0,435.2 164.0,435.1 165.0,434.8 166.0,434.9 167.0,435.2" fill="none" stroke="#698de3" stroke-width="0.9"/>
<polyline points="170.0,435.1 171.0,434.6 172.0,435.0 173.0,435.3 174.0,435.3" fill="none" stroke="#698de3" stroke-width="0.9"/>
<polyline points="172.0,435.1 173.0,435.0 174.0,435.6" fill="none" stroke="#8de3be" stroke-width="0.9"/>
<polyline points="177.0,435.1 178.0,434.7 179.0,435.0 180.0,434.9 181.0,435.5" fill="none" stroke="#8de3be" stroke-width="0.9"/>
<polyline points="181.0,435.5 182.0,435.2 183.0,435.5" fill="none" stroke="#69d7e3" stroke-width="0.9"/>
<polyline points="183.0,435.5 184.0,435.0 185.0,434.9" fill="none" stroke="#69d7e3" stroke-width="0.9"/>
<polyline points="185.0,434.9 186.0,435.7 187.0,435.0 188.0,434.9 189.0,434.7" fill="none" stroke="#8de3be" stroke-width="0.9"/>
<polyline points="193.0,435.1 194.0,434.4 195.0,436.0 196.0,435.2" fill="none" stroke="#69d7e3" stroke-width="0.9"/>
<polyline points="196.0,435.2 197.0,435.1 198.0,435.6 199.0,435.1" fill="none" stroke="#8de3be" stroke-width="0.9"/>
<polyline points="199.0,435.1 200.0,435.0 201.0,434.8 202.0,434.8" fill="none" stroke="#69d7e3" stroke-width="0.9"/>
<polyline points="205.0,435.1 206.0,435.3 207.0,436.0 208.0,434.5" fill="none" stroke="#e7a462" stroke-width="0.9"/>
<polyline points="208.0,434.5 209.0,434.6 210.0,435.7 211.0,434.6 212.0,435.8" fill="none" stroke="#e7bf62" stroke-width="0.9"/>
<polyline points="212.0,435.8 213.0,436.7 214.0,433.8 215.0,436.7 216.0,435.7" fill="none" stroke="#e7bf62" stroke-width="0.9"/>
<polyline points="216.0,435.7 217.0,437.8 218.0,434.5 219.0,435.8 220.0,435.0" fill="none" stroke="#d9e76f" stroke-width="0.9"/>
<polyline points="220.0,435.0 221.0,434.7 222.0,435.4" fill="none" stroke="#e7a462" stroke-width="0.9"/>
<polyline points="222.0,435.4 223.0,435.3 224.0,433.0 225.0,433.6 226.0,435.7" fill="none" stroke="#d9e76f" stroke-width="0.9"/>
<polyline points="226.0,435.7 227.0,435.3 228.0,434.7 229.0,435.0" fill="none" stroke="#e7bf62" stroke-width="0.9"/>
<polyline points="229.0,435.0 230.0,437.3 231.0,435.9 232.0,435.1" fill="none" stroke="#e7bf62" stroke-width="0.9"/>
<polyline points="232.0,435.1 233.0,435.4 234.0,438.1 235.0,435.2" fill="none" stroke="#e7a462" stroke-width="0.9"/>
<polyline points="235.0,435.2 236.0,436.4 237.0,435.2 238.0,434.4" fill="none" stroke="#e7bf62" stroke-width="0.9"/>
<polyline points="236.0,435.1 237.0,435.4 238.0,435.3" fill="none" stroke="#6289e7" stroke-width="0.9"/>
<polyline points="238.0,435.3 239.0,435.5 240.0,434.3 241.0,437.0" fill="none" stroke="#6289e7" stroke-width="0.9"/>
<polyline points="241.0,437.0 242.0,434.7 243.0,434.0 244.0,434.3 245.0,435.6" fill="none" stroke="#6289e7" stroke-width="0.9"/>
<polyline points="245.0,435.6 246.0,433.9 247.0,435.3 248.0,433.4" fill="none" stroke="#6262d9" stroke-width="0.9"/>
<polyline points="248.0,433.4 249.0,434.8 250.0,435.9 251.0,435.2" fill="none" stroke="#6262d9" stroke-width="0.9"/>
<polyline points="250.0,435.1 251.0,434.4 252.0,434.4" fill="none" stroke="#bfe789" stroke-width="0.9"/>
<polyline points="252.0,434.4 253.0,436.6 254.0,433.4 255.0,434.4" fill="none" stroke="#e7a462" stroke-width="0.9"/>
<polyline points="255.0,434.4 256.0,433.4 257.0,436.3 258.0,435.9 259.0,435.3" fill="none" stroke="#e7a462" stroke-width="0.9"/>
<polyline points="259.0,435.3 260.0,436.7 261.0,435.9 262.0,435.5" fill="none" stroke="#e7d962" stroke-width="0.9"/>
<polyline points="262.0,435.5 263.0,434.1 264.0,435.0 265.0,436.0 266.0,434.0" fill="none" stroke="#bfe789" stroke-width="0.9"/>
<polyline points="266.0,435.1 267.0,436.1 268.0,435.2" fill="none" stroke="#e7bf62" stroke-width="0.9"/>
<polyline points="268.0,435.2 269.0,430.0 270.0,436.9" fill="none" stroke="#e7bf62" stroke-width="0.9"/>
<polyline points="270.0,436.9 271.0,434.1 272.0,434.6" fill="none" stroke="#e7bf62" stroke-width="0.9"/>
<polyline points="272.0,434.6 273.0,434.5 274.0,434.0 275.0,433.0" fill="none" stroke="#e7bf62" stroke-width="0.9"/>
<polyline points="275.0,433.0 276.0,435.8 277.0,438.0" fill="none" stroke="#d9e76f" stroke-width="0.9"/>
<polyline points="277.0,438.0 278.0,435.3 279.0,435.2" fill="none" stroke="#d9e76f" stroke-width="0.9"/>
<polyline points="279.0,435.2 280.0,436.7 281.0,436.2" fill="none" stroke="#d9e76f" stroke-width="0.9"/>
<polyline points="281.0,436.2 282.0,434.9 283.0,435.1 284.0,434.5" fill="none" stroke="#d9e76f" stroke-width="0.9"/>
<polyline points="284.0,434.5 285.0,435.8 286.0,432.6 287.0,434.9" fill="none" stroke="#e78962" stroke-width="0.9"/>
<polyline points="287.0,434.9 288.0,431.4 289.0,436.4 290.0,431.5" fill="none" stroke="#e78962" stroke-width="0.9"/>
<polyline points="290.0,431.5 291.0,434.7 292.0,435.9 293.0,437.8" fill="none" stroke="#e78962" stroke-width="0.9"/>
<polyline points="293.0,437.8 294.0,435.2 295.0,432.6 296.0,437.4" fill="none" stroke="#e7bf62" stroke-width="0.9"/>
<polyline points="296.0,437.4 297.0,434.8 298.0,434.0 299.0,430.4 300.0,435.2" fill="none" stroke="#d9e76f" stroke-width="0.9"/>
<polyline points="298.0,435.1 299.0,435.0 300.0,436.1 301.0,436.1" fill="none" stroke="#62bfe7" stroke-width="0.9"/>
<polyline points="301.0,436.1 302.0,435.7 303.0,432.4 304.0,437.6" fill="none" stroke="#62bfe7" stroke-width="0.9"/>
<polyline points="304.0,437.6 305.0,437.4 306.0,434.8" fill="none" stroke="#62bfe7" stroke-width="0.9"/>
<polyline points="306.0,434.8 307.0,436.4 308.0,434.6 309.0,436.7 310.0,435.2" fill="none" stroke="#62bfe7" stroke-width="0.9"/>
<polyline points="310.0,435.2 311.0,436.0 312.0,435.9 313.0,436.2 314.0,436.1" fill="none" stroke="#62bfe7" stroke-width="0.9"/>
<polyline points="314.0,436.1 315.0,433.7 316.0,434.6 317.0,437.2" fill="none" stroke="#62bfe7" stroke-width="0.9"/>
<polyline points="317.0,437.2 318.0,434.3 319.0,435.2 320.0,435.3" fill="none" stroke="#62bfe7" stroke-width="0.9"/>
<polyline points="320.0,435.3 321.0,433.4 322.0,435.7 323.0,437.0" fill="none" stroke="#6262d9" stroke-width="0.9"/>
<polyline points="322.0,435.1 323.0,435.6 324.0,435.7 325.0,436.6" fill="none" stroke="#e78962" stroke-width="0.9"/>
<polyline points="325.0,436.6 326.0,435.0 327.0,432.7 328.0,435.0 329.0,434.6" fill="none" stroke="#e7bf62" stroke-width="0.9"/>
<polyline points="329.0,434.6 330.0,434.8 331.0,437.1 332.0,436.0" fill="none" stroke="#e76f62" stroke-width="0.9"/>
<polyline points="332.0,436.0 333.0,434.5 334.0,436.5 335.0,436.9 336.0,435.9" fill="none" stroke="#e7bf62" stroke-width="0.9"/>
<polyline points="336.0,435.9 337.0,436.1 338.0,435.2" fill="none" stroke="#e78962" stroke-width="0.9"/>
<polyline points="338.0,435.2 339.0,436.0 340.0,434.6" fill="none" stroke="#e76f62" stroke-width="0.9"/>
<polyline points="340.0,434.6 341.0,435.3 342.0,437.5 343.0,436.3" fill="none" stroke="#e78962" stroke-width="0.9"/>
<polyline points="343.0,436.3 344.0,436.2 345.0,436.6 346.0,433.7 347.0,435.0" fill="none" stroke="#e78962" stroke-width="0.9"/>
<polyline points="348.0,435.1 349.0,435.4 350.0,435.0 351.0,435.4 352.0,435.0" fill="none" stroke="#698de3" stroke-width="0.9"/>
<polyline points="357.0,435.1 358.0,434.6 359.0,434.6 360.0,435.0" fill="none" stroke="#6975e3" stroke-width="0.9"/>
<polyline points="360.0,435.0 361.0,435.3 362.0,435.3 363.0,434.9 364.0,434.4" fill="none" stroke="#69bee3" stroke-width="0.9"/>
<polyline points="364.0,434.4 365.0,434.6 366.0,435.8 367.0,435.1" fill="none" stroke="#69bee3" stroke-width="0.9"/>
<polyline points="367.0,435.1 368.0,435.1 369.0,435.5 370.0,435.6" fill="none" stroke="#698de3" stroke-width="0.9"/>
<polyline points="370.0,435.6 371.0,435.4 372.0,435.3 373.0,435.9" fill="none" stroke="#698de3" stroke-width="0.9"/>
<polyline points="373.0,435.9 374.0,434.8 375.0,434.5 376.0,435.3 377.0,435.1" fill="none" stroke="#69bee3" stroke-width="0.9"/>
<line x1="176" y1="435.1" x2="176" y2="430.1" stroke="#a5ffd8" stroke-width="1.1"/>
<line x1="185" y1="435.1" x2="185" y2="439.1" stroke="#bfffbf" stroke-width="1.1"/>
<line x1="196" y1="435.1" x2="196" y2="430.1" stroke="#bfffbf" stroke-width="1.1"/>
<line x1="199" y1="435.1" x2="199" y2="431.1" stroke="#d8ffa5" stroke-width="1.1"/>
<line x1="246" y1="435.1" x2="246" y2="431.1" stroke="#fff27f" stroke-width="1.1"/>
<line x1="250" y1="435.1" x2="250" y2="442.1" stroke="#ffd87f" stroke-width="1.1"/>
<line x1="252.5" y1="435.1" x2="252.5" y2="440.1" stroke="#fff27f" stroke-width="1.1"/>
<line x1="268" y1="435.1" x2="268" y2="493.1" stroke="#ff9b7f" stroke-width="1.3"/>
<line x1="277.6" y1="435.1" x2="277.6" y2="407.1" stroke="#fcff82" stroke-width="1.3"/>
<line x1="280" y1="435.1" x2="280" y2="458.1" stroke="#ffaf7f" stroke-width="1.2100000000000002"/>
<line x1="285.6" y1="435.1" x2="285.6" y2="491.1" stroke="#ff9b7f" stroke-width="1.3"/>
<line x1="289" y1="435.1" x2="289" y2="455.1" stroke="#ffbf7f" stroke-width="1.1"/>
<line x1="293" y1="435.1" x2="293" y2="450.1" stroke="#ffd87f" stroke-width="1.1"/>
<line x1="298" y1="435.1" x2="298" y2="498.1" stroke="#bfffbf" stroke-width="1.1"/>
<line x1="301" y1="435.1" x2="301" y2="463.1" stroke="#d8ffa5" stroke-width="1.1"/>
<line x1="304" y1="435.1" x2="304" y2="457.1" stroke="#fff27f" stroke-width="1.1"/>
<line x1="308" y1="435.1" x2="308" y2="453.1" stroke="#f2ff8c" stroke-width="1.1"/>
<line x1="312" y1="435.1" x2="312" y2="445.1" stroke="#bfffbf" stroke-width="1.1"/>
<line x1="300" y1="435.1" x2="300" y2="428.1" stroke="#7f8cff" stroke-width="1.1"/>
<line x1="305" y1="435.1" x2="305" y2="429.1" stroke="#7fa5ff" stroke-width="1.1"/>
<line x1="310" y1="435.1" x2="310" y2="430.1" stroke="#7f7ffc" stroke-width="1.1"/>
<line x1="315" y1="435.1" x2="315" y2="430.1" stroke="#7f9bff" stroke-width="1.1"/>
<line x1="337" y1="435.1" x2="337" y2="446.1" stroke="#ff9b7f" stroke-width="1.1"/>
<line x1="331" y1="435.1" x2="331" y2="440.1" stroke="#ffbf7f" stroke-width="1.1"/>
<polyline points="378.0,458.3 379.0,458.0 380.0,458.2 381.0,458.0" fill="none" stroke="#6975e3" stroke-width="0.9"/>
<polyline points="381.0,458.0 382.0,458.6 383.0,458.1" fill="none" stroke="#698de3" stroke-width="0.9"/>
<polyline points="389.0,458.3 390.0,458.4 391.0,458.3 392.0,458.9 393.0,458.4" fill="none" stroke="#69bee3" stroke-width="0.9"/>
<polyline points="393.0,458.4 394.0,457.9 395.0,458.6 396.0,458.6" fill="none" stroke="#698de3" stroke-width="0.9"/>
<polyline points="396.0,458.6 397.0,458.5 398.0,457.9 399.0,458.5 400.0,458.8" fill="none" stroke="#69bee3" stroke-width="0.9"/>
<polyline points="405.0,458.3 406.0,457.6 407.0,457.9" fill="none" stroke="#6289e7" stroke-width="0.9"/>
<polyline points="407.0,457.9 408.0,458.4 409.0,458.8" fill="none" stroke="#626fe7" stroke-width="0.9"/>
<polyline points="409.0,458.8 410.0,459.1 411.0,459.1 412.0,457.8" fill="none" stroke="#e7bf62" stroke-width="0.9"/>
<polyline points="412.0,457.8 413.0,457.1 414.0,457.9 415.0,459.2 416.0,457.2" fill="none" stroke="#e7bf62" stroke-width="0.9"/>
<polyline points="416.0,457.2 417.0,457.6 418.0,458.6 419.0,457.7" fill="none" stroke="#e78962" stroke-width="0.9"/>
<polyline points="419.0,457.7 420.0,458.6 421.0,459.0 422.0,457.4 423.0,458.8" fill="none" stroke="#e7bf62" stroke-width="0.9"/>
<polyline points="423.0,458.8 424.0,458.0 425.0,457.4" fill="none" stroke="#e7bf62" stroke-width="0.9"/>
<polyline points="425.0,457.4 426.0,458.1 427.0,460.0" fill="none" stroke="#e7bf62" stroke-width="0.9"/>
<polyline points="427.0,460.0 428.0,458.2 429.0,457.2" fill="none" stroke="#e7bf62" stroke-width="0.9"/>
<polyline points="429.0,457.2 430.0,458.6 431.0,459.7 432.0,457.9 433.0,459.6" fill="none" stroke="#e7bf62" stroke-width="0.9"/>
<polyline points="433.0,459.6 434.0,457.7 435.0,458.6" fill="none" stroke="#e78962" stroke-width="0.9"/>
<polyline points="435.0,458.6 436.0,458.3 437.0,460.6" fill="none" stroke="#e78962" stroke-width="0.9"/>
<polyline points="437.0,460.6 438.0,457.7 439.0,457.9 440.0,458.1" fill="none" stroke="#6289e7" stroke-width="0.9"/>
<polyline points="440.0,458.1 441.0,457.5 442.0,458.6 443.0,456.9" fill="none" stroke="#6289e7" stroke-width="0.9"/>
<polyline points="443.0,456.9 444.0,459.8 445.0,458.9" fill="none" stroke="#6289e7" stroke-width="0.9"/>
<polyline points="445.0,458.9 446.0,458.3 447.0,458.5 448.0,458.7" fill="none" stroke="#626fe7" stroke-width="0.9"/>
<polyline points="448.0,458.3 449.0,458.4 450.0,458.8 451.0,458.2" fill="none" stroke="#8de3be" stroke-width="0.9"/>
<polyline points="451.0,458.2 452.0,458.2 453.0,458.1 454.0,458.4" fill="none" stroke="#8de3be" stroke-width="0.9"/>
<polyline points="454.0,458.4 455.0,457.5 456.0,458.9 457.0,458.4 458.0,457.4" fill="none" stroke="#69bee3" stroke-width="0.9"/>
<polyline points="458.0,457.4 459.0,457.9 460.0,458.3 461.0,457.6 462.0,458.7" fill="none" stroke="#d7e375" stroke-width="0.9"/>
<polyline points="462.0,458.7 463.0,458.9 464.0,458.1 465.0,458.0" fill="none" stroke="#698de3" stroke-width="0.9"/>
<polyline points="465.0,458.0 466.0,459.0 467.0,458.7 468.0,458.7" fill="none" stroke="#8de3be" stroke-width="0.9"/>
<polyline points="471.0,458.3 472.0,457.9 473.0,458.1 474.0,458.7" fill="none" stroke="#69bee3" stroke-width="0.9"/>
<polyline points="474.0,458.7 475.0,458.8 476.0,458.5 477.0,458.3 478.0,458.6" fill="none" stroke="#d7e375" stroke-width="0.9"/>
<polyline points="481.0,458.3 482.0,458.9 483.0,458.1" fill="none" stroke="#d7e375" stroke-width="0.9"/>
<polyline points="487.0,458.3 488.0,457.9 489.0,458.0 490.0,458.6" fill="none" stroke="#69bee3" stroke-width="0.9"/>
<polyline points="490.0,458.3 491.0,457.0 492.0,459.4 493.0,458.3" fill="none" stroke="#6289e7" stroke-width="0.9"/>
<polyline points="493.0,458.3 494.0,459.3 495.0,459.2 496.0,457.8" fill="none" stroke="#62bfe7" stroke-width="0.9"/>
<polyline points="496.0,457.8 497.0,457.3 498.0,455.1" fill="none" stroke="#bfe789" stroke-width="0.9"/>
<polyline points="498.0,455.1 499.0,456.3 500.0,457.9" fill="none" stroke="#62bfe7" stroke-width="0.9"/>
<polyline points="500.0,457.9 501.0,458.7 502.0,458.6 503.0,457.4" fill="none" stroke="#62bfe7" stroke-width="0.9"/>
<polyline points="503.0,457.4 504.0,455.6 505.0,458.7 506.0,457.3 507.0,457.5" fill="none" stroke="#bfe789" stroke-width="0.9"/>
<polyline points="507.0,457.5 508.0,458.4 509.0,458.1 510.0,458.3" fill="none" stroke="#62bfe7" stroke-width="0.9"/>
<polyline points="510.0,458.3 511.0,460.0 512.0,459.3" fill="none" stroke="#bfe789" stroke-width="0.9"/>
<polyline points="512.0,459.3 513.0,458.4 514.0,459.6" fill="none" stroke="#62bfe7" stroke-width="0.9"/>
<polyline points="514.0,459.6 515.0,457.7 516.0,459.6 517.0,457.4" fill="none" stroke="#6289e7" stroke-width="0.9"/>
<polyline points="515.0,458.3 516.0,458.4 517.0,457.8 518.0,457.8" fill="none" stroke="#698de3" stroke-width="0.9"/>
<polyline points="518.0,457.8 519.0,458.0 520.0,458.8 521.0,458.6" fill="none" stroke="#69bee3" stroke-width="0.9"/>
<polyline points="525.0,458.3 526.0,458.6 527.0,458.3" fill="none" stroke="#a6e3a6" stroke-width="0.9"/>
<polyline points="527.0,458.3 528.0,457.7 529.0,458.6" fill="none" stroke="#e3be69" stroke-width="0.9"/>
<polyline points="529.0,458.6 530.0,458.7 531.0,458.5 532.0,458.4 533.0,458.5" fill="none" stroke="#a6e3a6" stroke-width="0.9"/>
<polyline points="533.0,458.5 534.0,458.4 535.0,457.9" fill="none" stroke="#a6e3a6" stroke-width="0.9"/>
<polyline points="535.0,457.9 536.0,458.5 537.0,458.6 538.0,458.5" fill="none" stroke="#d7e375" stroke-width="0.9"/>
<polyline points="538.0,458.5 539.0,459.0 540.0,458.8 541.0,458.6 542.0,458.4" fill="none" stroke="#e3be69" stroke-width="0.9"/>
<polyline points="545.0,458.3 546.0,458.7 547.0,458.5 548.0,458.4 549.0,458.5" fill="none" stroke="#698de3" stroke-width="0.9"/>
<polyline points="556.0,458.3 557.0,458.0 558.0,458.6" fill="none" stroke="#698de3" stroke-width="0.9"/>
<polyline points="558.0,458.6 559.0,458.1 560.0,458.3" fill="none" stroke="#69bee3" stroke-width="0.9"/>
<polyline points="560.0,458.3 561.0,457.9 562.0,457.8 563.0,458.4" fill="none" stroke="#d7e375" stroke-width="0.9"/>
<polyline points="563.0,458.4 564.0,457.9 565.0,458.4 566.0,457.8" fill="none" stroke="#a6e3a6" stroke-width="0.9"/>
<polyline points="566.0,457.8 567.0,458.6 568.0,458.7 569.0,457.4" fill="none" stroke="#d7e375" stroke-width="0.9"/>
<polyline points="569.0,457.4 570.0,457.9 571.0,458.4 572.0,458.2" fill="none" stroke="#a6e3a6" stroke-width="0.9"/>
<polyline points="572.0,458.2 573.0,458.2 574.0,458.5" fill="none" stroke="#e3be69" stroke-width="0.9"/>
<polyline points="574.0,458.5 575.0,458.2 576.0,458.5 577.0,458.1 578.0,458.7" fill="none" stroke="#69bee3" stroke-width="0.9"/>
<polyline points="578.0,458.7 579.0,458.4 580.0,458.7" fill="none" stroke="#698de3" stroke-width="0.9"/>
<polyline points="580.0,458.7 581.0,458.8 582.0,458.4 583.0,458.5" fill="none" stroke="#698de3" stroke-width="0.9"/>
<polyline points="583.0,458.5 584.0,458.4 585.0,457.4 586.0,457.7" fill="none" stroke="#69bee3" stroke-width="0.9"/>
<polyline points="586.0,457.7 587.0,458.5 588.0,459.0 589.0,458.6" fill="none" stroke="#e3be69" stroke-width="0.9"/>
<polyline points="589.0,458.6 590.0,458.5 591.0,458.6 592.0,459.2" fill="none" stroke="#e3be69" stroke-width="0.9"/>
<polyline points="594.0,458.3 595.0,458.2 596.0,458.4 597.0,458.6 598.0,458.0" fill="none" stroke="#d7e375" stroke-width="0.9"/>
<polyline points="604.0,458.3 605.0,458.2 606.0,458.3" fill="none" stroke="#d7e375" stroke-width="0.9"/>
<polyline points="608.0,458.3 609.0,458.5 610.0,458.6 611.0,458.5" fill="none" stroke="#698de3" stroke-width="0.9"/>
<polyline points="614.0,458.3 615.0,458.9 616.0,458.7 617.0,457.8 618.0,458.1" fill="none" stroke="#a6e3a6" stroke-width="0.9"/>
<line x1="409" y1="458.3" x2="409" y2="441.3" stroke="#fcff82" stroke-width="1.3"/>
<line x1="405" y1="458.3" x2="405" y2="452.3" stroke="#ff8c7f" stroke-width="1.1"/>
<line x1="410" y1="458.3" x2="410" y2="468.3" stroke="#a5ffd8" stroke-width="1.1"/>
<line x1="420" y1="458.3" x2="420" y2="453.3" stroke="#7fa5ff" stroke-width="1.1"/>
<line x1="434" y1="458.3" x2="434" y2="466.3" stroke="#7f8cff" stroke-width="1.1"/>
<line x1="425" y1="458.3" x2="425" y2="455.3" stroke="#ffa57f" stroke-width="1.1"/>
<line x1="449.8" y1="458.3" x2="449.8" y2="404.3" stroke="#bfffbf" stroke-width="1.3"/>
<line x1="450" y1="458.3" x2="450" y2="480.3" stroke="#7fd8ff" stroke-width="1.3"/>
<line x1="460" y1="458.3" x2="460" y2="404.3" stroke="#8cfff2" stroke-width="1.3"/>
<line x1="460" y1="458.3" x2="460" y2="502.3" stroke="#96ffe8" stroke-width="1.3"/>
<line x1="485" y1="458.3" x2="485" y2="404.3" stroke="#7fa5ff" stroke-width="1.3"/>
<line x1="458" y1="458.3" x2="458" y2="449.3" stroke="#ff8c7f" stroke-width="1.2100000000000002"/>
<line x1="440" y1="458.3" x2="440" y2="455.3" stroke="#7fa5ff" stroke-width="1.1"/>
<line x1="468" y1="458.3" x2="468" y2="463.3" stroke="#ff8c7f" stroke-width="1.1"/>
<line x1="476" y1="458.3" x2="476" y2="454.3" stroke="#f2ff8c" stroke-width="1.1"/>
<line x1="478" y1="458.3" x2="478" y2="464.3" stroke="#bfffbf" stroke-width="1.1"/>
<line x1="495" y1="458.3" x2="495" y2="446.3" stroke="#7fbfff" stroke-width="1.3"/>
<line x1="494" y1="458.3" x2="494" y2="472.3" stroke="#fff27f" stroke-width="1.2100000000000002"/>
<line x1="500" y1="458.3" x2="500" y2="444.3" stroke="#7fafff" stroke-width="1.3"/>
<line x1="503" y1="458.3" x2="503" y2="442.3" stroke="#7fa5ff" stroke-width="1.3"/>
<line x1="505" y1="458.3" x2="505" y2="468.3" stroke="#7ff2ff" stroke-width="1.2100000000000002"/>
<line x1="510" y1="458.3" x2="510" y2="466.3" stroke="#7fd8ff" stroke-width="1.2100000000000002"/>
<line x1="516" y1="458.3" x2="516" y2="437.3" stroke="#ffaf7f" stroke-width="1.3"/>
<text x="189.7" y="417.8" font-size="13" font-weight="normal" fill="#111" text-anchor="middle" stroke="#111" stroke-width="0.3">17</text>
<polyline points="176.2,427.5 176.2,422.0 198.2,422.0 198.2,425.8" fill="none" stroke="#1a1a1a" stroke-width="1.4"/>
<polyline points="195.4,431.0 195.4,425.8 201.0,425.8 201.0,431.0" fill="none" stroke="#1a1a1a" stroke-width="1.4"/>
<polyline points="187.7,418.5 187.7,422.0" fill="none" stroke="#1a1a1a" stroke-width="1.4"/>
<polyline points="185.8,444.3 185.8,457.0 205.7,457.0 205.7,444.3" fill="none" stroke="#1a1a1a" stroke-width="1.4"/>
<polyline points="195.4,457.0 195.4,471.4" fill="none" stroke="#1a1a1a" stroke-width="1.4"/>
<text x="195.2" y="482.7" font-size="13" font-weight="normal" fill="#111" text-anchor="middle" stroke="#111" stroke-width="0.3">20</text>
<text x="246.8" y="423.8" font-size="13" font-weight="normal" fill="#111" text-anchor="middle" stroke="#111" stroke-width="0.3">17</text>
<polyline points="246.0,426.0 246.0,431.0" fill="none" stroke="#1a1a1a" stroke-width="1.4"/>
<text x="251.9" y="471.4" font-size="13" font-weight="normal" fill="#111" text-anchor="middle" stroke="#111" stroke-width="0.3">20</text>
<polyline points="252.1,448.4 252.1,459.4" fill="none" stroke="#1a1a1a" stroke-width="1.4"/>
<text x="307" y="483.5" font-size="13" font-weight="normal" fill="#111" text-anchor="middle" stroke="#111" stroke-width="0.3">18</text>
<polyline points="276.0,453.0 303.0,471.0" fill="none" stroke="#1a1a1a" stroke-width="1.4"/>
<text x="278.2" y="493.6" font-size="13" font-weight="normal" fill="#111" text-anchor="middle" stroke="#111" stroke-width="0.3">11</text>
<polyline points="267.5,470.0 278.0,482.0 286.5,470.0" fill="none" stroke="#1a1a1a" stroke-width="1.4"/>
<polyline points="280.0,462.0 278.0,482.0" fill="none" stroke="#1a1a1a" stroke-width="1.4"/>
<polyline points="278.0,462.0 282.0,462.0" fill="none" stroke="#1a1a1a" stroke-width="1.4"/>
<text x="455.9" y="437" font-size="13" font-weight="normal" fill="#111" text-anchor="middle" stroke="#111" stroke-width="0.3">13</text>
<polyline points="457.5,440.0 458.5,446.0" fill="none" stroke="#1a1a1a" stroke-width="1.4"/>
<text x="395.2" y="485.1" font-size="13" font-weight="normal" fill="#111" text-anchor="middle" stroke="#111" stroke-width="0.3">20</text>
<polyline points="387.0,466.0 394.0,475.0" fill="none" stroke="#1a1a1a" stroke-width="1.4"/>
<text x="410.8" y="493.6" font-size="13" font-weight="normal" fill="#111" text-anchor="middle" stroke="#111" stroke-width="0.3">11</text>
<polyline points="410.0,476.0 410.0,481.0" fill="none" stroke="#1a1a1a" stroke-width="1.4"/>
<text x="450.9" y="496" font-size="13" font-weight="normal" fill="#111" text-anchor="middle" stroke="#111" stroke-width="0.3">5</text>
<polyline points="453.0,484.0 459.0,478.0" fill="none" stroke="#1a1a1a" stroke-width="1.4"/>
<text x="515.8" y="433.5" font-size="13" font-weight="normal" fill="#111" text-anchor="middle" stroke="#111" stroke-width="0.3">13</text>
<polyline points="516.0,436.0 516.0,441.0" fill="none" stroke="#1a1a1a" stroke-width="1.4"/>
<text x="500.2" y="482" font-size="13" font-weight="normal" fill="#111" text-anchor="middle" stroke="#111" stroke-width="0.3">12</text>
<polyline points="500.0,465.0 500.0,471.0" fill="none" stroke="#1a1a1a" stroke-width="1.4"/>
<text x="513.8" y="485" font-size="13" font-weight="normal" fill="#111" text-anchor="middle" stroke="#111" stroke-width="0.3">4</text>
<polyline points="513.5,467.0 513.5,474.0" fill="none" stroke="#1a1a1a" stroke-width="1.4"/>
</svg></body></html>
